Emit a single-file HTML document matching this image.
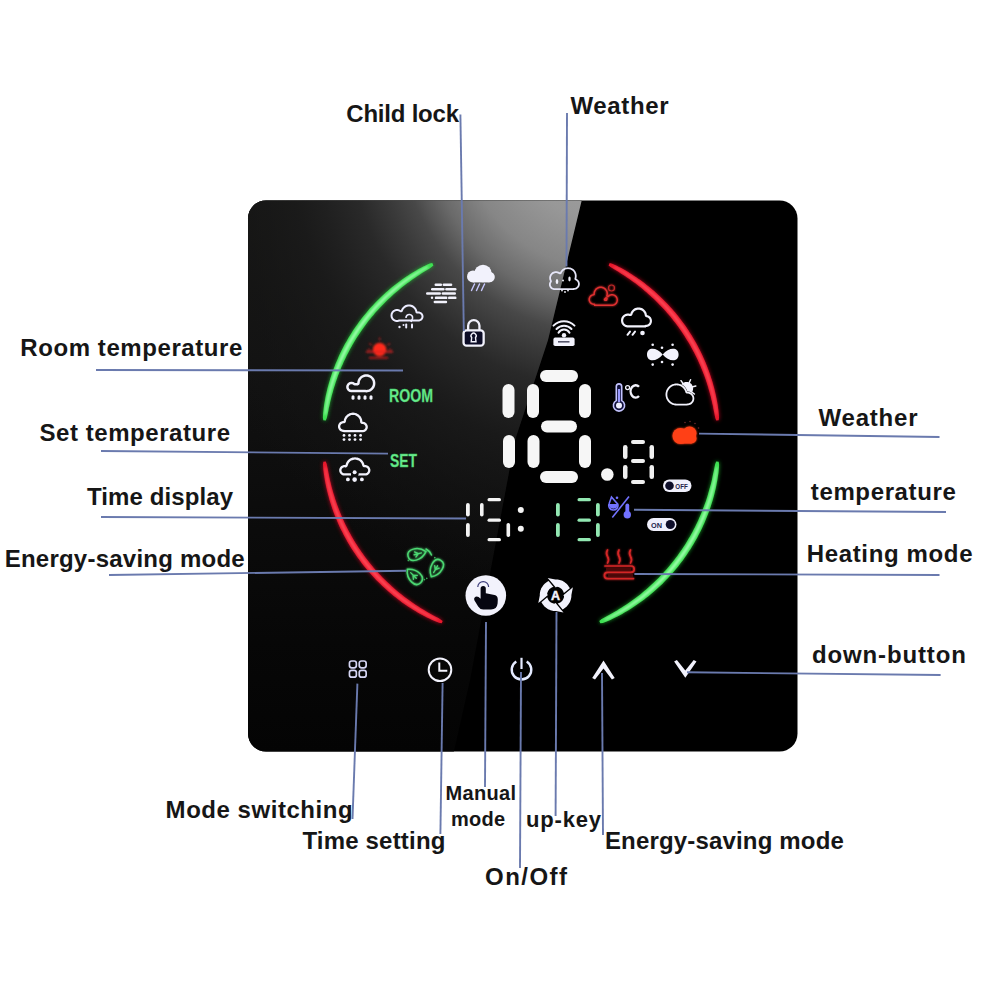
<!DOCTYPE html>
<html><head><meta charset="utf-8"><style>
html,body{margin:0;padding:0;background:#fff;width:1000px;height:1000px;overflow:hidden}
svg{display:block}
text{font-family:"Liberation Sans",sans-serif;font-weight:bold;fill:#161616}
</style></head><body>
<svg width="1000" height="1000" viewBox="0 0 1000 1000">
<defs>
<radialGradient id="reflR" gradientUnits="userSpaceOnUse" cx="611" cy="104" r="500" gradientTransform="translate(611 104) rotate(106.9) scale(1 0.92) translate(-611 -104)">
<stop offset="0" stop-color="#a6a6a6"/>
<stop offset="0.232" stop-color="#989898"/>
<stop offset="0.33" stop-color="#868686"/>
<stop offset="0.4" stop-color="#6a6a6a"/>
<stop offset="0.46" stop-color="#484848"/>
<stop offset="0.51" stop-color="#393939"/>
<stop offset="0.57" stop-color="#292929"/>
<stop offset="0.64" stop-color="#202020"/>
<stop offset="0.7" stop-color="#1b1b1b" stop-opacity="0.85"/>
<stop offset="0.84" stop-color="#161616" stop-opacity="0.5"/>
<stop offset="1" stop-color="#141414" stop-opacity="0"/>
</radialGradient>
<linearGradient id="baseV" gradientUnits="userSpaceOnUse" x1="0" y1="200" x2="0" y2="752">
<stop offset="0" stop-color="#161614"/>
<stop offset="0.3" stop-color="#121212"/>
<stop offset="0.55" stop-color="#0c0c0c"/>
<stop offset="0.8" stop-color="#070707"/>
<stop offset="1" stop-color="#040404"/>
</linearGradient>

<clipPath id="panelclip"><rect x="248" y="200.5" width="549.5" height="551" rx="18"/></clipPath>
<filter id="glow" x="-20%" y="-20%" width="140%" height="140%"><feGaussianBlur stdDeviation="2.2"/></filter>
<filter id="gl1" x="-30%" y="-30%" width="160%" height="160%"><feGaussianBlur in="SourceGraphic" stdDeviation="0.9" result="b"/><feMerge><feMergeNode in="b"/><feMergeNode in="SourceGraphic"/></feMerge></filter>
<filter id="gl2" x="-40%" y="-40%" width="180%" height="180%"><feGaussianBlur in="SourceGraphic" stdDeviation="1.1"/></filter>

</defs>
<rect x="248" y="200.5" width="549.5" height="551" rx="18" fill="#000"/>
<g clip-path="url(#panelclip)">
<polygon points="240,195 583,195 548,340 515,440 470,680 452,760 240,760" fill="url(#baseV)"/>
<polygon points="240,195 583,195 548,340 515,440 470,680 452,760 240,760" fill="url(#reflR)"/>
</g>
<g filter="url(#glow)" opacity="0.8">
<path d="M323.3,420.2 L322.9,417.7 L323.0,415.2 L323.2,412.7 L323.5,410.2 L323.8,407.7 L324.1,405.2 L324.5,402.7 L325.0,400.2 L325.4,397.8 L325.9,395.3 L326.5,392.8 L327.0,390.4 L327.6,387.9 L328.3,385.5 L329.0,383.1 L329.7,380.7 L330.4,378.3 L331.2,375.9 L332.0,373.5 L332.8,371.1 L333.7,368.7 L334.6,366.4 L335.5,364.0 L336.5,361.7 L337.5,359.4 L338.5,357.1 L339.5,354.8 L340.6,352.5 L341.7,350.3 L342.9,348.0 L344.0,345.8 L345.2,343.6 L346.5,341.4 L347.7,339.2 L349.0,337.0 L350.3,334.9 L351.7,332.7 L353.0,330.6 L354.4,328.5 L355.8,326.4 L357.3,324.4 L358.8,322.3 L360.3,320.3 L361.8,318.3 L363.4,316.3 L364.9,314.4 L366.6,312.4 L368.2,310.5 L369.8,308.6 L371.5,306.7 L373.2,304.9 L375.0,303.0 L376.7,301.2 L378.5,299.4 L380.3,297.7 L382.1,295.9 L384.0,294.2 L385.8,292.5 L387.7,290.9 L389.6,289.2 L391.6,287.6 L393.5,286.0 L395.5,284.4 L397.5,282.9 L399.5,281.4 L401.5,279.9 L403.6,278.5 L405.7,277.0 L407.8,275.7 L409.9,274.3 L412.0,273.0 L414.1,271.7 L416.3,270.4 L418.5,269.1 L420.7,267.9 L422.9,266.8 L425.2,265.7 L427.5,264.6 L429.8,263.6 L432.3,263.1 L433.4,265.4 L431.6,267.1 L429.5,268.4 L427.4,269.7 L425.3,271.0 L423.2,272.3 L421.2,273.6 L419.1,274.9 L417.1,276.3 L415.0,277.7 L413.0,279.0 L411.0,280.5 L409.1,281.9 L407.1,283.3 L405.2,284.8 L403.2,286.3 L401.3,287.8 L399.4,289.4 L397.6,290.9 L395.7,292.5 L393.9,294.1 L392.1,295.7 L390.3,297.4 L388.5,299.1 L386.7,300.7 L385.0,302.5 L383.3,304.2 L381.6,305.9 L379.9,307.7 L378.3,309.5 L376.6,311.3 L375.0,313.1 L373.5,315.0 L371.9,316.8 L370.3,318.7 L368.8,320.6 L367.3,322.6 L365.9,324.5 L364.4,326.5 L363.0,328.4 L361.6,330.4 L360.2,332.4 L358.9,334.5 L357.5,336.5 L356.2,338.5 L355.0,340.6 L353.7,342.7 L352.5,344.8 L351.3,346.9 L350.1,349.1 L349.0,351.2 L347.8,353.4 L346.7,355.5 L345.7,357.7 L344.6,359.9 L343.6,362.1 L342.6,364.4 L341.6,366.6 L340.7,368.8 L339.8,371.1 L338.9,373.4 L338.0,375.6 L337.2,377.9 L336.4,380.2 L335.6,382.5 L334.9,384.9 L334.1,387.2 L333.4,389.5 L332.8,391.9 L332.1,394.2 L331.5,396.6 L330.9,399.0 L330.3,401.3 L329.8,403.7 L329.3,406.1 L328.7,408.5 L328.3,410.9 L327.8,413.3 L327.3,415.7 L326.8,418.1 L325.8,420.5Z" fill="#20c030"/><path d="M718.7,461.8 L719.1,464.5 L719.0,467.1 L718.7,469.7 L718.5,472.4 L718.1,475.0 L717.7,477.6 L717.3,480.2 L716.8,482.8 L716.3,485.4 L715.8,488.0 L715.2,490.6 L714.6,493.1 L713.9,495.7 L713.2,498.3 L712.5,500.8 L711.7,503.3 L710.9,505.8 L710.0,508.4 L709.2,510.9 L708.3,513.3 L707.3,515.8 L706.3,518.3 L705.3,520.7 L704.3,523.2 L703.2,525.6 L702.1,528.0 L700.9,530.4 L699.7,532.8 L698.5,535.1 L697.3,537.5 L696.0,539.8 L694.7,542.1 L693.3,544.4 L692.0,546.6 L690.6,548.9 L689.1,551.1 L687.7,553.3 L686.2,555.5 L684.6,557.7 L683.1,559.9 L681.5,562.0 L679.9,564.1 L678.3,566.2 L676.6,568.2 L674.9,570.3 L673.2,572.3 L671.4,574.3 L669.6,576.2 L667.8,578.2 L666.0,580.1 L664.1,582.0 L662.3,583.9 L660.3,585.7 L658.4,587.5 L656.5,589.3 L654.5,591.1 L652.5,592.8 L650.4,594.5 L648.4,596.2 L646.3,597.8 L644.2,599.4 L642.1,601.0 L639.9,602.6 L637.8,604.1 L635.6,605.6 L633.4,607.1 L631.2,608.5 L628.9,609.9 L626.7,611.3 L624.4,612.6 L622.1,613.9 L619.8,615.2 L617.4,616.4 L615.1,617.6 L612.7,618.8 L610.3,619.9 L607.9,620.9 L605.4,621.9 L602.9,622.9 L600.3,623.3 L599.3,621.0 L601.3,619.3 L603.6,618.0 L605.9,616.8 L608.1,615.5 L610.4,614.3 L612.6,613.0 L614.8,611.7 L617.1,610.4 L619.2,609.1 L621.4,607.7 L623.6,606.3 L625.7,604.9 L627.9,603.5 L630.0,602.0 L632.1,600.6 L634.2,599.1 L636.2,597.5 L638.2,596.0 L640.3,594.4 L642.3,592.8 L644.2,591.1 L646.2,589.5 L648.1,587.8 L650.0,586.1 L651.9,584.3 L653.8,582.6 L655.6,580.8 L657.5,579.0 L659.3,577.2 L661.0,575.3 L662.8,573.5 L664.5,571.6 L666.2,569.7 L667.9,567.7 L669.6,565.8 L671.2,563.8 L672.8,561.8 L674.4,559.8 L675.9,557.8 L677.5,555.7 L679.0,553.6 L680.4,551.5 L681.9,549.4 L683.3,547.3 L684.7,545.2 L686.1,543.0 L687.4,540.8 L688.7,538.6 L690.0,536.4 L691.2,534.2 L692.5,531.9 L693.7,529.6 L694.8,527.4 L696.0,525.1 L697.1,522.8 L698.2,520.4 L699.2,518.1 L700.2,515.7 L701.2,513.4 L702.2,511.0 L703.1,508.6 L704.0,506.2 L704.9,503.8 L705.8,501.4 L706.6,499.0 L707.4,496.5 L708.1,494.1 L708.8,491.6 L709.5,489.1 L710.2,486.6 L710.9,484.2 L711.5,481.7 L712.1,479.2 L712.6,476.6 L713.1,474.1 L713.7,471.6 L714.2,469.1 L714.7,466.5 L715.2,464.0 L716.2,461.5Z" fill="#20c030"/>
<path d="M441.7,623.3 L439.1,622.8 L436.6,621.8 L434.2,620.8 L431.8,619.7 L429.4,618.6 L427.0,617.4 L424.7,616.2 L422.4,615.0 L420.0,613.7 L417.7,612.4 L415.5,611.1 L413.2,609.7 L411.0,608.3 L408.8,606.9 L406.6,605.4 L404.4,603.9 L402.2,602.4 L400.1,600.8 L398.0,599.2 L395.9,597.6 L393.8,595.9 L391.8,594.3 L389.7,592.6 L387.7,590.8 L385.8,589.1 L383.8,587.3 L381.9,585.5 L380.0,583.6 L378.1,581.8 L376.2,579.9 L374.4,578.0 L372.6,576.0 L370.8,574.1 L369.1,572.1 L367.4,570.1 L365.7,568.0 L364.0,566.0 L362.4,563.9 L360.8,561.8 L359.2,559.6 L357.6,557.5 L356.1,555.3 L354.6,553.1 L353.2,550.9 L351.7,548.7 L350.3,546.5 L349.0,544.2 L347.6,541.9 L346.3,539.6 L345.0,537.3 L343.8,535.0 L342.6,532.6 L341.4,530.2 L340.2,527.9 L339.1,525.5 L338.0,523.0 L337.0,520.6 L336.0,518.2 L335.0,515.7 L334.0,513.2 L333.1,510.8 L332.2,508.3 L331.4,505.8 L330.6,503.2 L329.8,500.7 L329.1,498.2 L328.4,495.6 L327.7,493.1 L327.1,490.5 L326.5,487.9 L325.9,485.3 L325.4,482.8 L324.9,480.2 L324.5,477.6 L324.1,474.9 L323.7,472.3 L323.4,469.7 L323.2,467.1 L323.0,464.5 L323.3,461.8 L325.8,461.5 L326.7,464.0 L327.2,466.6 L327.7,469.1 L328.2,471.6 L328.7,474.2 L329.2,476.7 L329.7,479.2 L330.3,481.7 L330.9,484.2 L331.5,486.7 L332.2,489.2 L332.9,491.7 L333.6,494.1 L334.4,496.6 L335.1,499.0 L336.0,501.5 L336.8,503.9 L337.7,506.3 L338.6,508.7 L339.5,511.1 L340.5,513.5 L341.5,515.9 L342.5,518.2 L343.5,520.6 L344.6,522.9 L345.7,525.2 L346.9,527.5 L348.0,529.8 L349.2,532.1 L350.5,534.3 L351.7,536.6 L353.0,538.8 L354.3,541.0 L355.7,543.2 L357.0,545.3 L358.4,547.5 L359.8,549.6 L361.3,551.7 L362.8,553.8 L364.3,555.9 L365.8,558.0 L367.4,560.0 L368.9,562.0 L370.5,564.0 L372.2,566.0 L373.8,568.0 L375.5,569.9 L377.2,571.8 L379.0,573.7 L380.7,575.6 L382.5,577.4 L384.3,579.3 L386.1,581.1 L388.0,582.8 L389.9,584.6 L391.7,586.3 L393.7,588.0 L395.6,589.7 L397.6,591.4 L399.5,593.0 L401.5,594.6 L403.6,596.2 L405.6,597.8 L407.7,599.3 L409.8,600.8 L411.9,602.3 L414.0,603.7 L416.1,605.2 L418.3,606.6 L420.4,607.9 L422.6,609.3 L424.8,610.6 L427.1,611.9 L429.3,613.2 L431.5,614.5 L433.8,615.7 L436.1,616.9 L438.4,618.1 L440.6,619.4 L442.7,621.0Z" fill="#e01028"/><path d="M609.7,263.1 L612.2,263.7 L614.5,264.7 L616.7,265.8 L619.0,266.9 L621.2,268.1 L623.4,269.3 L625.6,270.6 L627.7,271.8 L629.9,273.2 L632.0,274.5 L634.1,275.9 L636.2,277.3 L638.2,278.7 L640.3,280.1 L642.3,281.6 L644.3,283.1 L646.3,284.7 L648.3,286.2 L650.2,287.8 L652.2,289.4 L654.1,291.1 L656.0,292.8 L657.8,294.4 L659.7,296.2 L661.5,297.9 L663.3,299.7 L665.0,301.4 L666.8,303.3 L668.5,305.1 L670.2,306.9 L671.9,308.8 L673.6,310.7 L675.2,312.6 L676.8,314.6 L678.4,316.5 L679.9,318.5 L681.4,320.5 L682.9,322.5 L684.4,324.6 L685.9,326.6 L687.3,328.7 L688.7,330.8 L690.0,332.9 L691.4,335.0 L692.7,337.2 L694.0,339.4 L695.2,341.5 L696.5,343.7 L697.7,346.0 L698.8,348.2 L700.0,350.4 L701.1,352.7 L702.2,355.0 L703.2,357.2 L704.2,359.5 L705.2,361.8 L706.2,364.2 L707.1,366.5 L708.0,368.9 L708.9,371.2 L709.7,373.6 L710.5,376.0 L711.3,378.4 L712.1,380.8 L712.8,383.2 L713.4,385.6 L714.1,388.0 L714.7,390.5 L715.3,392.9 L715.8,395.3 L716.3,397.8 L716.8,400.3 L717.3,402.7 L717.7,405.2 L718.0,407.7 L718.4,410.2 L718.6,412.7 L718.9,415.2 L719.0,417.7 L718.7,420.2 L716.2,420.5 L715.3,418.1 L714.8,415.7 L714.4,413.3 L713.9,410.9 L713.4,408.5 L713.0,406.1 L712.4,403.7 L711.9,401.3 L711.3,398.9 L710.8,396.5 L710.1,394.2 L709.5,391.8 L708.8,389.5 L708.1,387.1 L707.4,384.8 L706.7,382.5 L705.9,380.1 L705.1,377.8 L704.3,375.5 L703.4,373.3 L702.5,371.0 L701.6,368.7 L700.7,366.5 L699.7,364.2 L698.7,362.0 L697.7,359.8 L696.6,357.6 L695.6,355.4 L694.5,353.2 L693.3,351.0 L692.2,348.9 L691.0,346.8 L689.8,344.6 L688.6,342.5 L687.3,340.4 L686.0,338.4 L684.7,336.3 L683.4,334.3 L682.1,332.2 L680.7,330.2 L679.3,328.2 L677.9,326.2 L676.4,324.3 L674.9,322.3 L673.4,320.4 L671.9,318.5 L670.4,316.6 L668.8,314.8 L667.2,312.9 L665.6,311.1 L664.0,309.3 L662.3,307.5 L660.6,305.7 L658.9,304.0 L657.2,302.2 L655.5,300.5 L653.7,298.8 L651.9,297.2 L650.1,295.5 L648.3,293.9 L646.5,292.3 L644.6,290.7 L642.7,289.1 L640.9,287.6 L638.9,286.1 L637.0,284.6 L635.1,283.1 L633.1,281.7 L631.1,280.2 L629.1,278.8 L627.1,277.5 L625.0,276.1 L623.0,274.8 L620.9,273.4 L618.9,272.1 L616.8,270.8 L614.7,269.6 L612.6,268.3 L610.5,267.0 L608.6,265.4Z" fill="#e01028"/>
</g>
<path d="M323.3,420.2 L322.9,417.7 L323.0,415.2 L323.2,412.7 L323.5,410.2 L323.8,407.7 L324.1,405.2 L324.5,402.7 L325.0,400.2 L325.4,397.8 L325.9,395.3 L326.5,392.8 L327.0,390.4 L327.6,387.9 L328.3,385.5 L329.0,383.1 L329.7,380.7 L330.4,378.3 L331.2,375.9 L332.0,373.5 L332.8,371.1 L333.7,368.7 L334.6,366.4 L335.5,364.0 L336.5,361.7 L337.5,359.4 L338.5,357.1 L339.5,354.8 L340.6,352.5 L341.7,350.3 L342.9,348.0 L344.0,345.8 L345.2,343.6 L346.5,341.4 L347.7,339.2 L349.0,337.0 L350.3,334.9 L351.7,332.7 L353.0,330.6 L354.4,328.5 L355.8,326.4 L357.3,324.4 L358.8,322.3 L360.3,320.3 L361.8,318.3 L363.4,316.3 L364.9,314.4 L366.6,312.4 L368.2,310.5 L369.8,308.6 L371.5,306.7 L373.2,304.9 L375.0,303.0 L376.7,301.2 L378.5,299.4 L380.3,297.7 L382.1,295.9 L384.0,294.2 L385.8,292.5 L387.7,290.9 L389.6,289.2 L391.6,287.6 L393.5,286.0 L395.5,284.4 L397.5,282.9 L399.5,281.4 L401.5,279.9 L403.6,278.5 L405.7,277.0 L407.8,275.7 L409.9,274.3 L412.0,273.0 L414.1,271.7 L416.3,270.4 L418.5,269.1 L420.7,267.9 L422.9,266.8 L425.2,265.7 L427.5,264.6 L429.8,263.6 L432.3,263.1 L433.4,265.4 L431.6,267.1 L429.5,268.4 L427.4,269.7 L425.3,271.0 L423.2,272.3 L421.2,273.6 L419.1,274.9 L417.1,276.3 L415.0,277.7 L413.0,279.0 L411.0,280.5 L409.1,281.9 L407.1,283.3 L405.2,284.8 L403.2,286.3 L401.3,287.8 L399.4,289.4 L397.6,290.9 L395.7,292.5 L393.9,294.1 L392.1,295.7 L390.3,297.4 L388.5,299.1 L386.7,300.7 L385.0,302.5 L383.3,304.2 L381.6,305.9 L379.9,307.7 L378.3,309.5 L376.6,311.3 L375.0,313.1 L373.5,315.0 L371.9,316.8 L370.3,318.7 L368.8,320.6 L367.3,322.6 L365.9,324.5 L364.4,326.5 L363.0,328.4 L361.6,330.4 L360.2,332.4 L358.9,334.5 L357.5,336.5 L356.2,338.5 L355.0,340.6 L353.7,342.7 L352.5,344.8 L351.3,346.9 L350.1,349.1 L349.0,351.2 L347.8,353.4 L346.7,355.5 L345.7,357.7 L344.6,359.9 L343.6,362.1 L342.6,364.4 L341.6,366.6 L340.7,368.8 L339.8,371.1 L338.9,373.4 L338.0,375.6 L337.2,377.9 L336.4,380.2 L335.6,382.5 L334.9,384.9 L334.1,387.2 L333.4,389.5 L332.8,391.9 L332.1,394.2 L331.5,396.6 L330.9,399.0 L330.3,401.3 L329.8,403.7 L329.3,406.1 L328.7,408.5 L328.3,410.9 L327.8,413.3 L327.3,415.7 L326.8,418.1 L325.8,420.5Z" fill="#3ee052"/><path d="M718.7,461.8 L719.1,464.5 L719.0,467.1 L718.7,469.7 L718.5,472.4 L718.1,475.0 L717.7,477.6 L717.3,480.2 L716.8,482.8 L716.3,485.4 L715.8,488.0 L715.2,490.6 L714.6,493.1 L713.9,495.7 L713.2,498.3 L712.5,500.8 L711.7,503.3 L710.9,505.8 L710.0,508.4 L709.2,510.9 L708.3,513.3 L707.3,515.8 L706.3,518.3 L705.3,520.7 L704.3,523.2 L703.2,525.6 L702.1,528.0 L700.9,530.4 L699.7,532.8 L698.5,535.1 L697.3,537.5 L696.0,539.8 L694.7,542.1 L693.3,544.4 L692.0,546.6 L690.6,548.9 L689.1,551.1 L687.7,553.3 L686.2,555.5 L684.6,557.7 L683.1,559.9 L681.5,562.0 L679.9,564.1 L678.3,566.2 L676.6,568.2 L674.9,570.3 L673.2,572.3 L671.4,574.3 L669.6,576.2 L667.8,578.2 L666.0,580.1 L664.1,582.0 L662.3,583.9 L660.3,585.7 L658.4,587.5 L656.5,589.3 L654.5,591.1 L652.5,592.8 L650.4,594.5 L648.4,596.2 L646.3,597.8 L644.2,599.4 L642.1,601.0 L639.9,602.6 L637.8,604.1 L635.6,605.6 L633.4,607.1 L631.2,608.5 L628.9,609.9 L626.7,611.3 L624.4,612.6 L622.1,613.9 L619.8,615.2 L617.4,616.4 L615.1,617.6 L612.7,618.8 L610.3,619.9 L607.9,620.9 L605.4,621.9 L602.9,622.9 L600.3,623.3 L599.3,621.0 L601.3,619.3 L603.6,618.0 L605.9,616.8 L608.1,615.5 L610.4,614.3 L612.6,613.0 L614.8,611.7 L617.1,610.4 L619.2,609.1 L621.4,607.7 L623.6,606.3 L625.7,604.9 L627.9,603.5 L630.0,602.0 L632.1,600.6 L634.2,599.1 L636.2,597.5 L638.2,596.0 L640.3,594.4 L642.3,592.8 L644.2,591.1 L646.2,589.5 L648.1,587.8 L650.0,586.1 L651.9,584.3 L653.8,582.6 L655.6,580.8 L657.5,579.0 L659.3,577.2 L661.0,575.3 L662.8,573.5 L664.5,571.6 L666.2,569.7 L667.9,567.7 L669.6,565.8 L671.2,563.8 L672.8,561.8 L674.4,559.8 L675.9,557.8 L677.5,555.7 L679.0,553.6 L680.4,551.5 L681.9,549.4 L683.3,547.3 L684.7,545.2 L686.1,543.0 L687.4,540.8 L688.7,538.6 L690.0,536.4 L691.2,534.2 L692.5,531.9 L693.7,529.6 L694.8,527.4 L696.0,525.1 L697.1,522.8 L698.2,520.4 L699.2,518.1 L700.2,515.7 L701.2,513.4 L702.2,511.0 L703.1,508.6 L704.0,506.2 L704.9,503.8 L705.8,501.4 L706.6,499.0 L707.4,496.5 L708.1,494.1 L708.8,491.6 L709.5,489.1 L710.2,486.6 L710.9,484.2 L711.5,481.7 L712.1,479.2 L712.6,476.6 L713.1,474.1 L713.7,471.6 L714.2,469.1 L714.7,466.5 L715.2,464.0 L716.2,461.5Z" fill="#3ee052"/>
<path d="M441.7,623.3 L439.1,622.8 L436.6,621.8 L434.2,620.8 L431.8,619.7 L429.4,618.6 L427.0,617.4 L424.7,616.2 L422.4,615.0 L420.0,613.7 L417.7,612.4 L415.5,611.1 L413.2,609.7 L411.0,608.3 L408.8,606.9 L406.6,605.4 L404.4,603.9 L402.2,602.4 L400.1,600.8 L398.0,599.2 L395.9,597.6 L393.8,595.9 L391.8,594.3 L389.7,592.6 L387.7,590.8 L385.8,589.1 L383.8,587.3 L381.9,585.5 L380.0,583.6 L378.1,581.8 L376.2,579.9 L374.4,578.0 L372.6,576.0 L370.8,574.1 L369.1,572.1 L367.4,570.1 L365.7,568.0 L364.0,566.0 L362.4,563.9 L360.8,561.8 L359.2,559.6 L357.6,557.5 L356.1,555.3 L354.6,553.1 L353.2,550.9 L351.7,548.7 L350.3,546.5 L349.0,544.2 L347.6,541.9 L346.3,539.6 L345.0,537.3 L343.8,535.0 L342.6,532.6 L341.4,530.2 L340.2,527.9 L339.1,525.5 L338.0,523.0 L337.0,520.6 L336.0,518.2 L335.0,515.7 L334.0,513.2 L333.1,510.8 L332.2,508.3 L331.4,505.8 L330.6,503.2 L329.8,500.7 L329.1,498.2 L328.4,495.6 L327.7,493.1 L327.1,490.5 L326.5,487.9 L325.9,485.3 L325.4,482.8 L324.9,480.2 L324.5,477.6 L324.1,474.9 L323.7,472.3 L323.4,469.7 L323.2,467.1 L323.0,464.5 L323.3,461.8 L325.8,461.5 L326.7,464.0 L327.2,466.6 L327.7,469.1 L328.2,471.6 L328.7,474.2 L329.2,476.7 L329.7,479.2 L330.3,481.7 L330.9,484.2 L331.5,486.7 L332.2,489.2 L332.9,491.7 L333.6,494.1 L334.4,496.6 L335.1,499.0 L336.0,501.5 L336.8,503.9 L337.7,506.3 L338.6,508.7 L339.5,511.1 L340.5,513.5 L341.5,515.9 L342.5,518.2 L343.5,520.6 L344.6,522.9 L345.7,525.2 L346.9,527.5 L348.0,529.8 L349.2,532.1 L350.5,534.3 L351.7,536.6 L353.0,538.8 L354.3,541.0 L355.7,543.2 L357.0,545.3 L358.4,547.5 L359.8,549.6 L361.3,551.7 L362.8,553.8 L364.3,555.9 L365.8,558.0 L367.4,560.0 L368.9,562.0 L370.5,564.0 L372.2,566.0 L373.8,568.0 L375.5,569.9 L377.2,571.8 L379.0,573.7 L380.7,575.6 L382.5,577.4 L384.3,579.3 L386.1,581.1 L388.0,582.8 L389.9,584.6 L391.7,586.3 L393.7,588.0 L395.6,589.7 L397.6,591.4 L399.5,593.0 L401.5,594.6 L403.6,596.2 L405.6,597.8 L407.7,599.3 L409.8,600.8 L411.9,602.3 L414.0,603.7 L416.1,605.2 L418.3,606.6 L420.4,607.9 L422.6,609.3 L424.8,610.6 L427.1,611.9 L429.3,613.2 L431.5,614.5 L433.8,615.7 L436.1,616.9 L438.4,618.1 L440.6,619.4 L442.7,621.0Z" fill="#e8182c"/><path d="M609.7,263.1 L612.2,263.7 L614.5,264.7 L616.7,265.8 L619.0,266.9 L621.2,268.1 L623.4,269.3 L625.6,270.6 L627.7,271.8 L629.9,273.2 L632.0,274.5 L634.1,275.9 L636.2,277.3 L638.2,278.7 L640.3,280.1 L642.3,281.6 L644.3,283.1 L646.3,284.7 L648.3,286.2 L650.2,287.8 L652.2,289.4 L654.1,291.1 L656.0,292.8 L657.8,294.4 L659.7,296.2 L661.5,297.9 L663.3,299.7 L665.0,301.4 L666.8,303.3 L668.5,305.1 L670.2,306.9 L671.9,308.8 L673.6,310.7 L675.2,312.6 L676.8,314.6 L678.4,316.5 L679.9,318.5 L681.4,320.5 L682.9,322.5 L684.4,324.6 L685.9,326.6 L687.3,328.7 L688.7,330.8 L690.0,332.9 L691.4,335.0 L692.7,337.2 L694.0,339.4 L695.2,341.5 L696.5,343.7 L697.7,346.0 L698.8,348.2 L700.0,350.4 L701.1,352.7 L702.2,355.0 L703.2,357.2 L704.2,359.5 L705.2,361.8 L706.2,364.2 L707.1,366.5 L708.0,368.9 L708.9,371.2 L709.7,373.6 L710.5,376.0 L711.3,378.4 L712.1,380.8 L712.8,383.2 L713.4,385.6 L714.1,388.0 L714.7,390.5 L715.3,392.9 L715.8,395.3 L716.3,397.8 L716.8,400.3 L717.3,402.7 L717.7,405.2 L718.0,407.7 L718.4,410.2 L718.6,412.7 L718.9,415.2 L719.0,417.7 L718.7,420.2 L716.2,420.5 L715.3,418.1 L714.8,415.7 L714.4,413.3 L713.9,410.9 L713.4,408.5 L713.0,406.1 L712.4,403.7 L711.9,401.3 L711.3,398.9 L710.8,396.5 L710.1,394.2 L709.5,391.8 L708.8,389.5 L708.1,387.1 L707.4,384.8 L706.7,382.5 L705.9,380.1 L705.1,377.8 L704.3,375.5 L703.4,373.3 L702.5,371.0 L701.6,368.7 L700.7,366.5 L699.7,364.2 L698.7,362.0 L697.7,359.8 L696.6,357.6 L695.6,355.4 L694.5,353.2 L693.3,351.0 L692.2,348.9 L691.0,346.8 L689.8,344.6 L688.6,342.5 L687.3,340.4 L686.0,338.4 L684.7,336.3 L683.4,334.3 L682.1,332.2 L680.7,330.2 L679.3,328.2 L677.9,326.2 L676.4,324.3 L674.9,322.3 L673.4,320.4 L671.9,318.5 L670.4,316.6 L668.8,314.8 L667.2,312.9 L665.6,311.1 L664.0,309.3 L662.3,307.5 L660.6,305.7 L658.9,304.0 L657.2,302.2 L655.5,300.5 L653.7,298.8 L651.9,297.2 L650.1,295.5 L648.3,293.9 L646.5,292.3 L644.6,290.7 L642.7,289.1 L640.9,287.6 L638.9,286.1 L637.0,284.6 L635.1,283.1 L633.1,281.7 L631.1,280.2 L629.1,278.8 L627.1,277.5 L625.0,276.1 L623.0,274.8 L620.9,273.4 L618.9,272.1 L616.8,270.8 L614.7,269.6 L612.6,268.3 L610.5,267.0 L608.6,265.4Z" fill="#e8182c"/>
<g filter="url(#gl2)">
<path d="M324.8,415.2 L324.8,412.8 L325.0,410.4 L325.3,408.1 L325.7,405.8 L326.1,403.4 L326.5,401.1 L326.9,398.8 L327.4,396.5 L327.9,394.2 L328.5,391.9 L329.0,389.6 L329.6,387.3 L330.2,385.0 L330.9,382.7 L331.6,380.5 L332.3,378.2 L333.0,376.0 L333.8,373.7 L334.6,371.5 L335.4,369.3 L336.3,367.1 L337.2,364.9 L338.1,362.7 L339.0,360.5 L339.9,358.4 L340.9,356.2 L341.9,354.1 L343.0,352.0 L344.0,349.8 L345.1,347.7 L346.3,345.6 L347.4,343.6 L348.6,341.5 L349.7,339.5 L351.0,337.4 L352.2,335.4 L353.5,333.4 L354.8,331.4 L356.1,329.5 L357.4,327.5 L358.8,325.6 L360.2,323.7 L361.6,321.8 L363.0,319.9 L364.4,318.0 L365.9,316.2 L367.4,314.3 L368.9,312.5 L370.5,310.7 L372.1,308.9 L373.6,307.2 L375.2,305.4 L376.9,303.7 L378.5,302.0 L380.2,300.4 L381.9,298.7 L383.6,297.1 L385.3,295.4 L387.1,293.9 L388.9,292.3 L390.6,290.7 L392.4,289.2 L394.3,287.7 L396.1,286.2 L398.0,284.8 L399.9,283.3 L401.8,281.9 L403.7,280.5 L405.6,279.2 L407.6,277.8 L409.5,276.5 L411.5,275.3 L413.5,274.0 L415.5,272.8 L417.5,271.6 L419.6,270.4 L421.7,269.2 L423.8,268.1 L425.9,267.1 L428.1,266.3 L428.5,267.0 L426.6,268.4 L424.6,269.6 L422.6,270.8 L420.6,272.1 L418.6,273.3 L416.7,274.6 L414.7,275.9 L412.8,277.2 L410.8,278.5 L408.9,279.8 L407.1,281.2 L405.2,282.6 L403.3,284.0 L401.5,285.4 L399.6,286.9 L397.8,288.4 L396.0,289.9 L394.3,291.4 L392.5,292.9 L390.8,294.4 L389.0,296.0 L387.3,297.6 L385.7,299.2 L384.0,300.8 L382.3,302.5 L380.7,304.2 L379.1,305.8 L377.5,307.5 L375.9,309.3 L374.4,311.0 L372.9,312.8 L371.4,314.5 L369.9,316.3 L368.4,318.1 L367.0,320.0 L365.5,321.8 L364.1,323.7 L362.7,325.5 L361.4,327.4 L360.0,329.3 L358.7,331.3 L357.4,333.2 L356.2,335.1 L354.9,337.1 L353.7,339.1 L352.5,341.1 L351.3,343.1 L350.1,345.1 L349.0,347.2 L347.9,349.2 L346.8,351.3 L345.7,353.3 L344.7,355.4 L343.7,357.5 L342.7,359.6 L341.7,361.7 L340.8,363.9 L339.9,366.0 L339.0,368.2 L338.1,370.3 L337.3,372.5 L336.5,374.7 L335.7,376.9 L334.9,379.1 L334.2,381.3 L333.4,383.5 L332.7,385.7 L332.1,388.0 L331.4,390.2 L330.8,392.5 L330.2,394.7 L329.6,397.0 L329.1,399.3 L328.6,401.5 L328.1,403.8 L327.6,406.1 L327.1,408.4 L326.7,410.7 L326.2,413.0 L325.6,415.3Z" fill="#a0ffb0"/><path d="M717.2,466.8 L717.2,469.3 L716.9,471.8 L716.6,474.3 L716.2,476.7 L715.8,479.2 L715.4,481.6 L714.9,484.1 L714.4,486.5 L713.8,489.0 L713.2,491.4 L712.6,493.8 L712.0,496.2 L711.3,498.6 L710.6,501.0 L709.8,503.4 L709.0,505.7 L708.2,508.1 L707.4,510.5 L706.5,512.8 L705.6,515.1 L704.7,517.4 L703.7,519.7 L702.7,522.0 L701.7,524.3 L700.7,526.6 L699.6,528.8 L698.5,531.1 L697.4,533.3 L696.2,535.5 L695.0,537.7 L693.8,539.9 L692.5,542.0 L691.3,544.2 L690.0,546.3 L688.6,548.4 L687.3,550.5 L685.9,552.6 L684.5,554.7 L683.0,556.7 L681.6,558.7 L680.1,560.7 L678.6,562.7 L677.0,564.7 L675.5,566.6 L673.9,568.6 L672.2,570.5 L670.6,572.3 L668.9,574.2 L667.3,576.0 L665.5,577.9 L663.8,579.7 L662.1,581.4 L660.3,583.2 L658.5,584.9 L656.6,586.6 L654.8,588.3 L652.9,590.0 L651.0,591.6 L649.1,593.2 L647.2,594.8 L645.3,596.3 L643.3,597.9 L641.3,599.4 L639.3,600.9 L637.3,602.3 L635.2,603.7 L633.2,605.1 L631.1,606.5 L629.0,607.9 L626.9,609.2 L624.7,610.5 L622.6,611.7 L620.4,612.9 L618.2,614.1 L616.0,615.3 L613.8,616.4 L611.6,617.5 L609.3,618.6 L607.0,619.6 L604.6,620.4 L604.3,619.6 L606.4,618.3 L608.6,617.1 L610.7,615.9 L612.9,614.7 L615.0,613.5 L617.2,612.3 L619.3,611.0 L621.4,609.7 L623.5,608.4 L625.6,607.1 L627.6,605.8 L629.7,604.4 L631.7,603.0 L633.7,601.6 L635.7,600.1 L637.7,598.7 L639.6,597.2 L641.6,595.7 L643.5,594.1 L645.4,592.6 L647.3,591.0 L649.1,589.4 L651.0,587.7 L652.8,586.1 L654.6,584.4 L656.4,582.7 L658.1,581.0 L659.9,579.3 L661.6,577.5 L663.3,575.7 L664.9,573.9 L666.6,572.1 L668.2,570.3 L669.8,568.4 L671.4,566.5 L673.0,564.6 L674.5,562.7 L676.0,560.8 L677.5,558.8 L679.0,556.8 L680.4,554.8 L681.8,552.8 L683.2,550.8 L684.6,548.8 L685.9,546.7 L687.3,544.6 L688.5,542.5 L689.8,540.4 L691.1,538.3 L692.3,536.2 L693.5,534.0 L694.6,531.9 L695.8,529.7 L696.9,527.5 L697.9,525.3 L699.0,523.1 L700.0,520.8 L701.0,518.6 L702.0,516.3 L702.9,514.0 L703.9,511.8 L704.7,509.5 L705.6,507.2 L706.4,504.9 L707.3,502.5 L708.0,500.2 L708.8,497.9 L709.5,495.5 L710.2,493.1 L710.9,490.8 L711.5,488.4 L712.1,486.0 L712.7,483.6 L713.3,481.2 L713.8,478.8 L714.3,476.4 L714.8,474.0 L715.3,471.6 L715.8,469.1 L716.4,466.7Z" fill="#a0ffb0"/>
<path d="M437.4,620.4 L435.0,619.6 L432.7,618.6 L430.4,617.5 L428.2,616.4 L426.0,615.3 L423.8,614.1 L421.6,612.9 L419.4,611.7 L417.3,610.5 L415.1,609.2 L413.0,607.9 L410.9,606.5 L408.8,605.1 L406.8,603.7 L404.7,602.3 L402.7,600.9 L400.7,599.4 L398.7,597.9 L396.7,596.3 L394.8,594.8 L392.9,593.2 L391.0,591.6 L389.1,590.0 L387.2,588.3 L385.4,586.6 L383.5,584.9 L381.7,583.2 L379.9,581.4 L378.2,579.7 L376.5,577.9 L374.7,576.0 L373.1,574.2 L371.4,572.3 L369.8,570.5 L368.1,568.6 L366.5,566.6 L365.0,564.7 L363.4,562.7 L361.9,560.7 L360.4,558.7 L359.0,556.7 L357.5,554.7 L356.1,552.6 L354.7,550.5 L353.4,548.4 L352.0,546.3 L350.7,544.2 L349.5,542.0 L348.2,539.9 L347.0,537.7 L345.8,535.5 L344.6,533.3 L343.5,531.1 L342.4,528.8 L341.3,526.6 L340.3,524.3 L339.3,522.0 L338.3,519.7 L337.3,517.4 L336.4,515.1 L335.5,512.8 L334.6,510.5 L333.8,508.1 L333.0,505.7 L332.2,503.4 L331.4,501.0 L330.7,498.6 L330.0,496.2 L329.4,493.8 L328.8,491.4 L328.2,489.0 L327.6,486.5 L327.1,484.1 L326.6,481.6 L326.2,479.2 L325.8,476.7 L325.4,474.3 L325.1,471.8 L324.8,469.3 L324.8,466.8 L325.6,466.7 L326.2,469.1 L326.7,471.6 L327.2,474.0 L327.7,476.4 L328.2,478.8 L328.7,481.2 L329.3,483.6 L329.9,486.0 L330.5,488.4 L331.1,490.8 L331.8,493.1 L332.5,495.5 L333.2,497.9 L334.0,500.2 L334.7,502.5 L335.6,504.9 L336.4,507.2 L337.3,509.5 L338.1,511.8 L339.1,514.0 L340.0,516.3 L341.0,518.6 L342.0,520.8 L343.0,523.1 L344.1,525.3 L345.1,527.5 L346.2,529.7 L347.4,531.9 L348.5,534.0 L349.7,536.2 L350.9,538.3 L352.2,540.4 L353.5,542.5 L354.7,544.6 L356.1,546.7 L357.4,548.8 L358.8,550.8 L360.2,552.8 L361.6,554.8 L363.0,556.8 L364.5,558.8 L366.0,560.8 L367.5,562.7 L369.0,564.6 L370.6,566.5 L372.2,568.4 L373.8,570.3 L375.4,572.1 L377.1,573.9 L378.7,575.7 L380.4,577.5 L382.1,579.3 L383.9,581.0 L385.6,582.7 L387.4,584.4 L389.2,586.1 L391.0,587.7 L392.9,589.4 L394.7,591.0 L396.6,592.6 L398.5,594.1 L400.4,595.7 L402.4,597.2 L404.3,598.7 L406.3,600.1 L408.3,601.6 L410.3,603.0 L412.3,604.4 L414.4,605.8 L416.4,607.1 L418.5,608.4 L420.6,609.7 L422.7,611.0 L424.8,612.3 L427.0,613.5 L429.1,614.7 L431.3,615.9 L433.4,617.1 L435.6,618.3 L437.7,619.6Z" fill="#ff4858"/><path d="M613.9,266.3 L616.1,267.1 L618.2,268.1 L620.3,269.2 L622.4,270.4 L624.5,271.6 L626.5,272.8 L628.5,274.0 L630.5,275.3 L632.5,276.5 L634.4,277.8 L636.4,279.2 L638.3,280.5 L640.2,281.9 L642.1,283.3 L644.0,284.8 L645.9,286.2 L647.7,287.7 L649.6,289.2 L651.4,290.7 L653.1,292.3 L654.9,293.9 L656.7,295.4 L658.4,297.1 L660.1,298.7 L661.8,300.4 L663.5,302.0 L665.1,303.7 L666.8,305.4 L668.4,307.2 L669.9,308.9 L671.5,310.7 L673.1,312.5 L674.6,314.3 L676.1,316.2 L677.6,318.0 L679.0,319.9 L680.4,321.8 L681.8,323.7 L683.2,325.6 L684.6,327.5 L685.9,329.5 L687.2,331.4 L688.5,333.4 L689.8,335.4 L691.0,337.4 L692.3,339.5 L693.4,341.5 L694.6,343.6 L695.7,345.6 L696.9,347.7 L698.0,349.8 L699.0,352.0 L700.1,354.1 L701.1,356.2 L702.1,358.4 L703.0,360.5 L703.9,362.7 L704.8,364.9 L705.7,367.1 L706.6,369.3 L707.4,371.5 L708.2,373.7 L709.0,376.0 L709.7,378.2 L710.4,380.5 L711.1,382.7 L711.8,385.0 L712.4,387.3 L713.0,389.6 L713.5,391.9 L714.1,394.2 L714.6,396.5 L715.1,398.8 L715.5,401.1 L715.9,403.4 L716.3,405.8 L716.7,408.1 L717.0,410.4 L717.2,412.8 L717.2,415.2 L716.4,415.3 L715.8,413.0 L715.3,410.7 L714.9,408.4 L714.4,406.1 L713.9,403.8 L713.4,401.5 L712.9,399.3 L712.4,397.0 L711.8,394.7 L711.2,392.5 L710.6,390.2 L709.9,388.0 L709.3,385.7 L708.6,383.5 L707.8,381.3 L707.1,379.1 L706.3,376.9 L705.5,374.7 L704.7,372.5 L703.9,370.3 L703.0,368.2 L702.1,366.0 L701.2,363.9 L700.3,361.7 L699.3,359.6 L698.3,357.5 L697.3,355.4 L696.3,353.3 L695.2,351.3 L694.1,349.2 L693.0,347.2 L691.9,345.1 L690.7,343.1 L689.5,341.1 L688.3,339.1 L687.1,337.1 L685.8,335.1 L684.6,333.2 L683.3,331.3 L682.0,329.3 L680.6,327.4 L679.3,325.5 L677.9,323.7 L676.5,321.8 L675.0,320.0 L673.6,318.1 L672.1,316.3 L670.6,314.5 L669.1,312.8 L667.6,311.0 L666.1,309.3 L664.5,307.5 L662.9,305.8 L661.3,304.2 L659.7,302.5 L658.0,300.8 L656.3,299.2 L654.7,297.6 L653.0,296.0 L651.2,294.4 L649.5,292.9 L647.7,291.4 L646.0,289.9 L644.2,288.4 L642.4,286.9 L640.5,285.4 L638.7,284.0 L636.8,282.6 L634.9,281.2 L633.1,279.8 L631.2,278.5 L629.2,277.2 L627.3,275.9 L625.3,274.6 L623.4,273.3 L621.4,272.1 L619.4,270.8 L617.4,269.6 L615.4,268.4 L613.5,267.0Z" fill="#ff4858"/>
</g>
<g fill="#f6f6f6"><rect x="502.5" y="384" width="12" height="34" rx="6.0"/>
<rect x="503" y="435" width="12" height="33" rx="6.0"/>
<rect x="540" y="370" width="38" height="12" rx="6.0"/>
<rect x="527" y="384" width="12" height="34" rx="6.0"/>
<rect x="579" y="384" width="12" height="34" rx="6.0"/>
<rect x="541" y="420.5" width="36" height="12" rx="6.0"/>
<rect x="527.5" y="435" width="12" height="33" rx="6.0"/>
<rect x="579" y="435" width="12" height="33" rx="6.0"/>
<rect x="540" y="471" width="38" height="12" rx="6.0"/><circle cx="607.3" cy="474.5" r="6.3"/></g>
<g fill="#f0f0f0"><rect x="631" y="440" width="14" height="4" rx="2.0"/>
<rect x="623" y="445" width="4.5" height="14" rx="2.25"/>
<rect x="649.5" y="445" width="4.5" height="14" rx="2.25"/>
<rect x="631" y="459" width="14" height="4" rx="2.0"/>
<rect x="623" y="465" width="4.5" height="14" rx="2.25"/>
<rect x="649.5" y="465" width="4.5" height="14" rx="2.25"/>
<rect x="631" y="480" width="14" height="4" rx="2.0"/></g>
<g fill="#f4f4f4"><rect x="466" y="503" width="3.8" height="13.5" rx="1.9"/>
<rect x="466" y="523" width="3.8" height="14" rx="1.9"/>
<rect x="487.5" y="498" width="13.5" height="3.3" rx="1.65"/>
<rect x="480" y="503" width="3.6" height="13.5" rx="1.8"/>
<rect x="487.5" y="518.5" width="13.5" height="3.3" rx="1.65"/>
<rect x="506.5" y="523" width="3.6" height="14" rx="1.8"/>
<rect x="487.5" y="538" width="13.5" height="3.3" rx="1.65"/><circle cx="520.8" cy="510" r="3"/><circle cx="520.8" cy="528.8" r="3"/></g><g fill="#92e8b2"><rect x="556" y="503" width="3.8" height="13.5" rx="1.9"/>
<rect x="556" y="523" width="3.8" height="14" rx="1.9"/>
<rect x="577.5" y="498" width="13.5" height="3.3" rx="1.65"/>
<rect x="596" y="503" width="3.8" height="13.5" rx="1.9"/>
<rect x="577.5" y="518.5" width="13.5" height="3.3" rx="1.65"/>
<rect x="596" y="523" width="3.8" height="14" rx="1.9"/>
<rect x="577.5" y="538" width="13.5" height="3.3" rx="1.65"/></g>
<g fill="#f2f2fc"><rect x="434.5" y="283.5" width="7.6" height="2.5" rx="1.2"/><rect x="442.6" y="283.5" width="9.7" height="2.5" rx="1.2"/><rect x="431" y="287.9" width="13.6" height="2.5" rx="1.2"/><rect x="445.2" y="287.9" width="11.3" height="2.5" rx="1.2"/><rect x="426" y="292.3" width="15" height="2.5" rx="1.2"/><rect x="441.6" y="292.3" width="14.4" height="2.5" rx="1.2"/><rect x="434.8" y="296.6" width="12.6" height="2.5" rx="1.2"/><rect x="448" y="296.6" width="8.5" height="2.5" rx="1.2"/><rect x="433.6" y="300.7" width="13.6" height="2.5" rx="1.2"/><circle cx="432" cy="297.8" r="1.2"/></g>
<g fill="#f2f2fc"><circle cx="473" cy="276.5" r="6"/><circle cx="483" cy="273.5" r="8.7"/><circle cx="489.5" cy="277" r="5.3"/><rect x="473" y="276.5" width="16.5" height="5.899999999999977"/></g>
<g stroke="#c8c8ff" stroke-width="1.4" stroke-linecap="round"><line x1="471.5" y1="290.5" x2="474.5" y2="284"/><line x1="476.5" y1="290.5" x2="479.5" y2="284"/><line x1="481.5" y1="290.5" x2="484.5" y2="284"/></g>
<path d="M468.15,330 V325.8 A5.65,5.65 0 0 1 479.45,325.8 V330" fill="none" stroke="#f2f2fc" stroke-width="2.3"/><rect x="463.55" y="330.35" width="20.1" height="15.3" rx="3" fill="#0c0c26" stroke="#f2f2fc" stroke-width="2.3"/><path d="M471.7,337.6 A2.6,2.6 0 1 1 475.5,337.6 L476,341.8 H471.2 Z" fill="none" stroke="#f2f2fc" stroke-width="1.4"/>
<g><path d="M576.0,272.7 L575.5,271.6 L574.9,270.7 L574.2,269.8 L573.3,269.1 L572.4,268.5 L571.3,268.0 L570.3,267.6 L569.1,267.4 L568.0,267.3 L566.9,267.4 L565.7,267.6 L564.7,268.0 L563.6,268.5 L562.7,269.1 L561.8,269.8 L561.1,270.7 L560.5,271.6 L560.0,272.5 L559.4,272.1 L558.6,271.7 L557.8,271.4 L556.9,271.3 L556.0,271.2 L555.1,271.3 L554.2,271.4 L553.4,271.7 L552.6,272.1 L551.9,272.6 L551.2,273.2 L550.6,273.9 L550.1,274.6 L549.7,275.4 L549.4,276.2 L549.3,277.1 L549.2,278.0 L549.3,278.9 L549.4,279.8 L549.7,280.6 L550.1,281.3 L549.7,281.8 L549.4,282.4 L549.2,283.1 L549.0,283.8 L549.0,284.5 L549.0,285.2 L549.2,285.9 L549.4,286.6 L549.7,287.2 L550.1,287.8 L550.6,288.4 L551.2,288.9 L551.8,289.3 L552.4,289.6 L553.1,289.8 L553.8,290.0 L554.5,290.0 L574.0,290.0 L574.0,289.8 L574.8,289.8 L575.5,289.6 L576.2,289.4 L576.9,289.0 L577.5,288.6 L578.1,288.1 L578.6,287.5 L579.0,286.9 L579.4,286.2 L579.6,285.5 L579.8,284.8 L579.8,284.0 L579.8,283.2 L579.6,282.5 L579.4,281.8 L579.0,281.1 L578.6,280.5 L578.1,279.9 L577.5,279.4 L576.9,279.0 L576.3,278.7 L576.4,278.3 L576.6,277.1 L576.7,276.0 L576.6,274.9 L576.4,273.7 L576.0,272.7ZM554.6,288.2 L554.0,288.2 L553.5,288.1 L553.1,287.9 L552.7,287.7 L552.2,287.4 L551.9,287.1 L551.6,286.8 L551.3,286.3 L551.1,285.9 L550.9,285.5 L550.8,285.0 L550.8,284.5 L550.8,284.0 L550.9,283.5 L551.1,283.1 L551.3,282.7 L551.5,282.3 L551.7,282.1 L551.8,281.9 L551.8,281.6 L551.8,281.4 L551.8,281.2 L551.8,280.9 L551.8,280.7 L551.7,280.5 L551.4,279.9 L551.2,279.3 L551.0,278.7 L551.0,278.0 L551.0,277.3 L551.2,276.7 L551.4,276.1 L551.7,275.5 L552.0,275.0 L552.5,274.5 L553.0,274.0 L553.5,273.7 L554.1,273.4 L554.7,273.2 L555.3,273.0 L556.0,273.0 L556.7,273.0 L557.3,273.2 L557.9,273.4 L558.5,273.7 L559.0,274.0 L559.2,274.1 L559.5,274.2 L559.7,274.3 L559.9,274.3 L560.1,274.3 L560.4,274.3 L560.6,274.2 L560.8,274.1 L561.0,274.0 L561.2,273.9 L561.4,273.7 L561.5,273.5 L561.6,273.3 L562.0,272.6 L562.5,271.8 L563.1,271.1 L563.8,270.5 L564.6,270.0 L565.4,269.6 L566.2,269.3 L567.1,269.2 L568.0,269.1 L568.9,269.2 L569.8,269.3 L570.6,269.6 L571.4,270.0 L572.2,270.5 L572.9,271.1 L573.5,271.8 L574.0,272.6 L574.4,273.4 L574.7,274.2 L574.8,275.1 L574.9,276.0 L574.8,276.9 L574.7,277.8 L574.6,278.1 L574.5,278.3 L574.5,278.5 L574.5,278.8 L574.5,279.0 L574.6,279.2 L574.6,279.5 L574.8,279.7 L574.9,279.9 L575.1,280.0 L575.3,280.2 L575.5,280.3 L576.0,280.5 L576.4,280.8 L576.8,281.2 L577.2,281.6 L577.5,282.0 L577.7,282.5 L577.9,283.0 L578.0,283.5 L578.0,284.0 L578.0,284.5 L577.9,285.0 L577.7,285.5 L577.5,286.0 L577.2,286.4 L576.8,286.8 L576.4,287.2 L576.0,287.5 L575.5,287.7 L575.0,287.9 L574.5,288.0 L573.9,288.0 L573.6,288.0 L573.4,288.1 L573.2,288.2 L554.6,288.2Z" fill="#e6e6f8" fill-rule="evenodd"/><g fill="#f2f2fc"><ellipse cx="557" cy="281.5" rx="1.3" ry="2.6"/><ellipse cx="569.5" cy="279" rx="1.2" ry="2.4"/><circle cx="563" cy="280.5" r="1"/><circle cx="562" cy="290.5" r="0.9"/><circle cx="565" cy="292" r="0.9"/><circle cx="568" cy="290.5" r="0.9"/></g></g>
<g filter="url(#gl1)"><path d="M607.4,291.0 L607.0,290.2 L606.5,289.4 L605.9,288.6 L605.1,288.0 L604.4,287.5 L603.5,287.1 L602.6,286.7 L601.7,286.6 L600.7,286.5 L599.7,286.6 L598.8,286.7 L597.9,287.1 L597.1,287.5 L596.3,288.0 L595.5,288.6 L594.9,289.4 L594.4,290.2 L594.0,291.0 L593.6,291.9 L593.5,292.8 L593.4,293.8 L593.4,294.0 L593.3,294.0 L592.6,294.2 L591.9,294.4 L591.2,294.7 L590.7,295.1 L590.1,295.6 L589.6,296.2 L589.2,296.8 L588.9,297.4 L588.7,298.1 L588.5,298.8 L588.5,299.5 L588.5,300.2 L588.7,300.9 L588.9,301.6 L589.2,302.2 L589.6,302.8 L590.1,303.4 L590.7,303.9 L591.2,304.3 L591.9,304.6 L592.6,304.8 L593.3,305.0 L594.0,305.0 L594.0,306.0 L612.0,306.0 L612.8,305.9 L613.6,305.8 L614.3,305.5 L615.0,305.2 L615.7,304.8 L616.2,304.2 L616.8,303.7 L617.2,303.0 L617.5,302.3 L617.8,301.6 L617.9,300.8 L618.0,300.0 L617.9,299.2 L617.8,298.4 L617.5,297.7 L617.2,297.0 L616.8,296.3 L616.2,295.8 L615.7,295.2 L615.0,294.8 L614.3,294.5 L613.6,294.2 L612.8,294.1 L612.0,294.0 L611.2,294.1 L610.4,294.2 L609.7,294.5 L609.0,294.8 L608.3,295.2 L607.8,295.8 L607.7,295.8 L607.8,295.7 L607.9,294.8 L608.0,293.8 L607.9,292.8 L607.8,291.9 L607.4,291.0ZM595.4,304.4 L595.3,304.3 L595.2,304.1 L595.1,304.0 L595.0,303.8 L594.8,303.7 L594.6,303.6 L594.5,303.6 L594.3,303.5 L594.1,303.5 L593.5,303.5 L593.0,303.4 L592.5,303.2 L592.0,303.0 L591.6,302.7 L591.2,302.3 L590.8,301.9 L590.5,301.5 L590.3,301.0 L590.1,300.5 L590.0,300.0 L590.0,299.5 L590.0,299.0 L590.1,298.5 L590.3,298.0 L590.5,297.5 L590.8,297.1 L591.2,296.7 L591.6,296.3 L592.0,296.0 L592.5,295.8 L593.0,295.6 L593.5,295.5 L593.5,295.5 L593.7,295.5 L593.9,295.5 L594.1,295.4 L594.2,295.3 L594.4,295.2 L594.5,295.0 L594.7,294.9 L594.8,294.7 L594.8,294.5 L594.9,294.3 L594.9,294.1 L594.9,293.9 L594.9,293.8 L595.0,293.0 L595.1,292.3 L595.3,291.6 L595.7,290.9 L596.1,290.3 L596.6,289.7 L597.2,289.2 L597.8,288.8 L598.5,288.4 L599.2,288.2 L599.9,288.1 L600.7,288.0 L601.5,288.1 L602.2,288.2 L602.9,288.4 L603.6,288.8 L604.2,289.2 L604.8,289.7 L605.3,290.3 L605.7,290.9 L606.1,291.6 L606.3,292.3 L606.4,293.0 L606.5,293.8 L606.4,294.6 L606.3,295.3 L606.3,295.3 L606.2,295.5 L606.2,295.7 L606.2,295.9 L606.2,296.1 L606.3,296.3 L606.4,296.5 L606.5,296.6 L606.6,296.8 L606.7,296.9 L606.9,297.1 L607.0,297.2 L607.2,297.2 L607.4,297.3 L607.6,297.3 L607.8,297.3 L608.0,297.3 L608.2,297.2 L608.4,297.2 L608.5,297.1 L608.7,296.9 L608.8,296.8 L609.3,296.4 L609.8,296.1 L610.3,295.8 L610.8,295.7 L611.4,295.5 L612.0,295.5 L612.6,295.5 L613.2,295.7 L613.7,295.8 L614.2,296.1 L614.7,296.4 L615.2,296.8 L615.6,297.3 L615.9,297.8 L616.2,298.3 L616.3,298.8 L616.5,299.4 L616.5,300.0 L616.5,300.6 L616.3,301.2 L616.2,301.7 L615.9,302.2 L615.6,302.7 L615.2,303.2 L614.7,303.6 L614.2,303.9 L613.7,304.2 L613.2,304.3 L612.6,304.5 L612.0,304.5 L595.4,304.5 L595.4,304.4ZM604.3,298.4 L604.1,298.5 L604.0,298.7 L603.9,298.9 L603.8,299.0 L603.8,299.2 L603.7,299.4 L603.8,299.6 L603.8,299.8 L603.8,300.0 L603.9,300.2 L604.0,300.4 L604.2,300.5 L604.3,300.7 L604.5,300.8 L604.7,300.9 L604.8,300.9 L605.0,301.0 L605.2,301.0 L606.0,301.0 L606.2,301.0 L606.4,300.9 L606.6,300.9 L606.8,300.8 L607.0,300.7 L607.1,300.5 L607.3,300.4 L607.4,300.2 L607.4,300.0 L607.5,299.8 L607.5,299.6 L607.5,299.4 L607.6,298.9 L607.7,298.7 L607.7,298.5 L607.6,298.3 L607.6,298.1 L607.5,297.9 L607.4,297.8 L607.3,297.6 L607.2,297.5 L607.0,297.4 L606.8,297.3 L606.7,297.2 L606.5,297.1 L606.3,297.1 L606.1,297.1 L605.9,297.1 L605.7,297.2 L605.5,297.3 L605.3,297.4 L605.2,297.5 L605.0,297.6 L604.8,297.9 L604.3,298.4ZM606.2,298.6 L606.1,299.2 L606.0,299.5 L605.2,299.5 L605.9,299.0 L606.2,298.6Z" fill="#e03030" fill-rule="evenodd"/><circle cx="611.5" cy="288" r="3" fill="none" stroke="#c02828" stroke-width="1.2"/></g>
<g fill="none" stroke="#f2f2fc" stroke-width="2" stroke-linecap="round"><path d="M553.5,325.6 A14.8,14.8 0 0 1 574.5,325.6"/><path d="M556.5,329 A10.2,10.2 0 0 1 571.5,329"/><path d="M558.5,332.7 A6.4,6.4 0 0 1 569.5,332.7"/></g><circle cx="564" cy="335.2" r="2.2" fill="#f2f2fc"/><rect x="553.4" y="337.6" width="21.2" height="8.4" rx="1.8" fill="#f2f2fc"/><rect x="558" y="341" width="11.5" height="1.6" fill="#55556a"/>
<path d="M646.4,312.7 L645.9,311.8 L645.2,310.8 L644.5,310.0 L643.7,309.3 L642.8,308.6 L641.8,308.1 L640.7,307.8 L639.6,307.6 L638.5,307.5 L637.4,307.6 L636.3,307.8 L635.2,308.1 L634.2,308.6 L633.3,309.3 L632.5,310.0 L631.8,310.8 L631.1,311.8 L630.6,312.7 L630.3,313.8 L630.3,313.9 L629.8,313.7 L628.9,313.6 L628.0,313.5 L627.1,313.6 L626.2,313.7 L625.3,314.0 L624.5,314.4 L623.7,314.9 L623.1,315.6 L622.4,316.2 L621.9,317.0 L621.5,317.8 L621.2,318.7 L621.1,319.6 L621.0,320.5 L621.1,321.4 L621.2,322.3 L621.5,323.2 L621.9,324.0 L622.4,324.8 L623.1,325.4 L623.7,326.1 L624.5,326.6 L625.3,327.0 L626.2,327.3 L627.1,327.4 L628.0,327.5 L646.0,327.5 L646.0,327.0 L646.8,326.9 L647.6,326.8 L648.3,326.5 L649.0,326.2 L649.7,325.8 L650.2,325.2 L650.8,324.7 L651.2,324.0 L651.5,323.3 L651.8,322.6 L651.9,321.8 L652.0,321.0 L651.9,320.2 L651.8,319.4 L651.5,318.7 L651.2,318.0 L650.8,317.3 L650.2,316.8 L649.7,316.2 L649.0,315.8 L648.3,315.5 L647.6,315.2 L646.9,315.1 L646.9,314.9 L646.7,313.8 L646.4,312.7ZM632.7,313.6 L633.0,312.9 L633.5,312.2 L634.0,311.5 L634.7,311.0 L635.4,310.5 L636.1,310.2 L636.9,309.9 L637.7,309.8 L638.5,309.7 L639.3,309.8 L640.1,309.9 L640.9,310.2 L641.6,310.5 L642.3,311.0 L643.0,311.5 L643.5,312.2 L644.0,312.9 L644.3,313.6 L644.6,314.4 L644.7,315.2 L644.7,315.2 L644.8,315.5 L644.9,315.8 L645.0,316.1 L645.1,316.3 L645.3,316.5 L645.5,316.7 L645.7,316.9 L646.0,317.1 L646.2,317.2 L646.5,317.2 L647.0,317.3 L647.5,317.5 L647.9,317.7 L648.3,318.0 L648.7,318.3 L649.0,318.7 L649.3,319.1 L649.5,319.5 L649.7,320.0 L649.8,320.5 L649.8,321.0 L649.8,321.5 L649.7,322.0 L649.5,322.5 L649.3,322.9 L649.0,323.3 L648.7,323.7 L648.3,324.0 L647.9,324.3 L647.5,324.5 L647.0,324.7 L646.5,324.8 L645.9,324.8 L645.6,324.8 L645.3,324.9 L645.1,325.0 L644.8,325.1 L644.6,325.3 L628.1,325.3 L627.4,325.3 L626.8,325.1 L626.2,324.9 L625.6,324.7 L625.1,324.3 L624.6,323.9 L624.2,323.4 L623.8,322.9 L623.6,322.3 L623.4,321.7 L623.2,321.1 L623.2,320.5 L623.2,319.9 L623.4,319.3 L623.6,318.7 L623.8,318.1 L624.2,317.6 L624.6,317.1 L625.1,316.7 L625.6,316.3 L626.2,316.1 L626.8,315.9 L627.4,315.7 L628.0,315.7 L628.6,315.7 L629.2,315.9 L629.6,316.0 L629.8,316.1 L630.1,316.1 L630.4,316.1 L630.7,316.1 L631.0,316.0 L631.2,315.9 L631.5,315.7 L631.7,315.5 L631.9,315.3 L632.1,315.1 L632.2,314.9 L632.4,314.6 L632.4,314.4 L632.7,313.6Z" fill="#f2f2fc" fill-rule="evenodd"/>
<g stroke="#f2f2fc" stroke-width="2" stroke-linecap="round"><line x1="627.5" y1="334.8" x2="630" y2="331.6"/><line x1="632.5" y1="334.8" x2="635" y2="331.6"/></g><circle cx="642.5" cy="333" r="2.3" fill="#f2f2fc"/>
<path d="M662.7,354.5 C657,347 647,346.5 647,354.5 C647,362.5 657,362 662.7,354.5 C668.5,347 678.6,346.5 678.6,354.5 C678.6,362.5 668.5,362 662.7,354.5 Z" fill="#f2f2fc"/><g fill="#f2f2fc"><circle cx="652.7" cy="344.8" r="1.3"/><circle cx="662" cy="347.8" r="1.3"/><circle cx="672.6" cy="344.8" r="1.3"/><circle cx="662" cy="362" r="1.3"/><circle cx="652.7" cy="364.6" r="1.3"/><circle cx="672.6" cy="364.6" r="1.3"/></g>
<path d="M686.7,390.3 L686.0,389.0 L685.2,387.8 L684.3,386.7 L683.2,385.8 L682.0,385.0 L680.7,384.3 L679.3,383.9 L677.9,383.6 L676.5,383.5 L675.1,383.6 L673.7,383.9 L672.3,384.3 L671.0,385.0 L669.8,385.8 L668.7,386.7 L667.8,387.8 L667.0,389.0 L666.3,390.3 L665.9,391.7 L665.6,393.1 L665.5,394.5 L665.6,395.9 L665.9,397.3 L666.3,398.7 L667.0,400.0 L667.8,401.2 L668.7,402.3 L669.8,403.2 L671.0,404.0 L672.3,404.7 L673.7,405.1 L675.1,405.4 L676.5,405.5 L687.5,405.5 L687.5,405.3 L688.4,405.2 L689.3,405.1 L690.1,404.8 L690.9,404.4 L691.6,403.9 L692.3,403.3 L692.9,402.6 L693.4,401.9 L693.8,401.1 L694.1,400.3 L694.2,399.4 L694.3,398.5 L694.2,397.6 L694.1,396.7 L693.8,395.9 L693.4,395.1 L692.9,394.4 L692.3,393.7 L691.6,393.1 L690.9,392.6 L690.1,392.2 L689.3,391.9 L688.4,391.8 L687.5,391.7 L687.1,391.7 L687.1,391.7 L686.7,390.3ZM685.4,392.3 L685.5,392.5 L685.6,392.7 L685.8,392.9 L686.0,393.1 L686.1,393.2 L686.3,393.3 L686.6,393.4 L686.8,393.5 L687.0,393.5 L687.3,393.5 L687.5,393.5 L688.2,393.5 L688.8,393.7 L689.4,393.9 L690.0,394.2 L690.5,394.5 L691.0,395.0 L691.5,395.5 L691.8,396.0 L692.1,396.6 L692.3,397.2 L692.5,397.8 L692.5,398.5 L692.5,399.2 L692.3,399.8 L692.1,400.4 L691.8,401.0 L691.5,401.5 L691.0,402.0 L690.5,402.5 L690.0,402.8 L689.4,403.1 L688.8,403.3 L688.2,403.5 L687.4,403.5 L687.1,403.5 L686.9,403.6 L686.7,403.7 L676.6,403.7 L675.3,403.6 L674.1,403.4 L673.0,403.0 L671.9,402.5 L670.9,401.8 L670.0,401.0 L669.2,400.1 L668.5,399.1 L668.0,398.0 L667.6,396.9 L667.4,395.7 L667.3,394.5 L667.4,393.3 L667.6,392.1 L668.0,391.0 L668.5,389.9 L669.2,388.9 L670.0,388.0 L670.9,387.2 L671.9,386.5 L673.0,386.0 L674.1,385.6 L675.3,385.4 L676.5,385.3 L677.7,385.4 L678.9,385.6 L680.0,386.0 L681.1,386.5 L682.1,387.2 L683.0,388.0 L683.8,388.9 L684.5,389.9 L685.0,391.0 L685.4,392.2 L685.4,392.3Z" fill="#f2f2fc" fill-rule="evenodd"/><path d="M691.3,379.7 L691.3,379.6 L691.3,379.5 L691.2,379.5 L691.2,379.4 L691.2,379.3 L691.1,379.3 L691.1,379.2 L691.0,379.2 L690.9,379.2 L690.9,379.1 L690.8,379.1 L690.7,379.1 L690.7,379.1 L690.6,379.1 L690.5,379.1 L690.4,379.1 L690.4,379.1 L690.3,379.1 L690.2,379.1 L690.2,379.2 L690.1,379.2 L690.1,379.2 L690.0,379.3 L690.0,379.4 L689.9,379.4 L689.9,379.5 L688.6,382.2 L688.4,382.2 L687.8,382.0 L687.1,381.9 L686.5,381.9 L685.9,381.9 L685.2,382.0 L684.6,382.2 L684.0,382.4 L683.4,382.7 L683.4,382.7 L681.6,380.2 L681.6,380.1 L681.5,380.1 L681.5,380.0 L681.4,380.0 L681.3,380.0 L681.3,379.9 L681.2,379.9 L681.1,379.9 L681.1,379.9 L681.0,379.9 L680.9,379.9 L680.8,379.9 L680.8,379.9 L680.7,379.9 L680.6,380.0 L680.6,380.0 L680.5,380.1 L680.5,380.1 L680.4,380.2 L680.4,380.2 L680.3,380.3 L680.3,380.4 L680.3,380.4 L680.3,380.5 L680.2,380.6 L680.2,380.7 L680.2,380.7 L680.3,380.8 L680.3,380.9 L680.3,380.9 L680.3,381.0 L680.4,381.1 L682.1,383.6 L681.8,383.8 L681.4,384.3 L681.4,384.3 L681.8,384.5 L681.8,384.5 L682.8,385.1 L682.8,385.1 L683.7,385.8 L683.7,385.8 L684.5,386.5 L684.5,386.5 L685.2,387.3 L685.2,387.3 L685.9,388.2 L685.9,388.2 L686.5,389.2 L686.5,389.2 L686.9,390.2 L686.9,390.2 L687.3,391.2 L687.3,391.2 L687.4,391.4 L687.5,391.4 L687.5,391.4 L688.2,391.4 L688.2,391.4 L688.9,391.5 L688.9,391.5 L689.5,391.7 L689.6,391.7 L690.2,391.9 L690.2,391.9 L690.7,392.2 L690.7,392.2 L690.7,392.3 L690.8,392.3 L690.8,392.4 L690.9,392.5 L690.9,392.5 L691.0,392.6 L693.9,394.6 L694.0,394.7 L694.1,394.7 L694.1,394.7 L694.2,394.7 L694.3,394.8 L694.3,394.8 L694.4,394.8 L694.5,394.7 L694.6,394.7 L694.6,394.7 L694.7,394.7 L694.8,394.6 L694.8,394.6 L694.9,394.5 L694.9,394.5 L695.0,394.4 L695.0,394.4 L695.1,394.3 L695.1,394.2 L695.1,394.2 L695.1,394.1 L695.1,394.0 L695.1,393.9 L695.1,393.9 L695.1,393.8 L695.1,393.7 L695.0,393.7 L695.0,393.6 L695.0,393.5 L694.9,393.5 L694.9,393.4 L694.8,393.4 L692.3,391.6 L692.3,391.6 L692.6,391.0 L692.8,390.4 L693.0,389.8 L693.1,389.1 L693.1,388.5 L693.1,387.9 L693.0,387.5 L696.0,386.7 L696.0,386.7 L696.1,386.7 L696.2,386.7 L696.2,386.6 L696.3,386.6 L696.3,386.5 L696.4,386.5 L696.4,386.4 L696.5,386.3 L696.5,386.3 L696.5,386.2 L696.5,386.1 L696.5,386.0 L696.5,386.0 L696.5,385.9 L696.5,385.8 L696.5,385.8 L696.4,385.7 L696.4,385.6 L696.4,385.6 L696.3,385.5 L696.3,385.5 L696.2,385.4 L696.1,385.4 L696.1,385.3 L696.0,385.3 L695.9,385.3 L695.9,385.3 L695.8,385.3 L695.7,385.3 L695.7,385.3 L695.6,385.3 L692.6,386.1 L692.6,386.0 L692.3,385.4 L692.0,384.8 L691.6,384.3 L691.2,383.8 L690.7,383.4 L690.2,383.0 L689.9,382.9 L691.2,380.1 L691.3,380.0 L691.3,380.0 L691.3,379.9 L691.3,379.8 L691.3,379.8 L691.3,379.7Z" fill="#f2f2fc"/>
<path d="M616.3,400.6 V386.6 A2.7,2.7 0 0 1 621.7,386.6 V400.6 A5.6,5.6 0 1 1 616.3,400.6 Z" fill="#10103a" stroke="#c4c4ff" stroke-width="1.6"/><rect x="617.9" y="389" width="2.2" height="13" fill="#9a9aff"/><circle cx="619" cy="405.6" r="3" fill="#f0f0ff"/><circle cx="627.6" cy="387.6" r="2" fill="none" stroke="#f2f2fc" stroke-width="1.3"/><path d="M639,386.8 A5,6.2 0 1 0 639,396" fill="none" stroke="#f2f2fc" stroke-width="2.4"/>
<g filter="url(#gl1)"><g fill="#ff4018"><circle cx="680.5" cy="436" r="8"/><circle cx="689.5" cy="433.5" r="7"/><circle cx="691.5" cy="438.5" r="5"/><rect x="680.5" y="436" width="11.0" height="7.600000000000023"/></g></g><g fill="#6a2a2a"><circle cx="685" cy="422.5" r="0.8"/><circle cx="690" cy="421.5" r="0.8"/><circle cx="695" cy="423.5" r="0.8"/><circle cx="698.5" cy="428" r="0.8"/></g>
<rect x="663" y="479.5" width="28.5" height="12.5" rx="6.25" fill="#f0f0fc"/><circle cx="669.5" cy="485.75" r="4.3" fill="#0e0e2a"/><text x="675.3" y="488.9" font-size="7.5" textLength="12.5" lengthAdjust="spacingAndGlyphs" style="fill:#22224a">OFF</text>
<rect x="647" y="518" width="29.5" height="13" rx="6.5" fill="#f0f0fc"/><circle cx="670.3" cy="524.5" r="4.6" fill="#0e0e2a"/><text x="651" y="527.6" font-size="7.5" textLength="11" lengthAdjust="spacingAndGlyphs" style="fill:#22224a">ON</text>
<g fill="none" stroke="#7272ff" stroke-width="1.6"><path d="M611.5,497 L609.2,503.5 A4.6,4.6 0 1 0 617.8,504.2 Z"/><line x1="612.3" y1="517.6" x2="629" y2="496.5"/></g><path d="M608.6,504 H618 A4.7,4.7 0 0 1 608.6,504 Z" fill="#7272ff"/><circle cx="617" cy="497.8" r="1.3" fill="#7272ff"/><circle cx="627.3" cy="514.8" r="3.7" fill="#7272ff"/><rect x="625.4" y="503.5" width="3.8" height="11" rx="1.9" fill="#7272ff"/>
<g filter="url(#gl1)" fill="none" stroke="#d42626" stroke-width="1.7" stroke-linecap="round"><path d="M607.5,550 q-2,3.2 0,6.5 q2,3.3 0,6.5"/><path d="M619,550 q-2,3.2 0,6.5 q2,3.3 0,6.5"/><path d="M630.5,550 q-2,3.2 0,6.5 q2,3.3 0,6.5"/><path d="M605,566 H631 A3.2,3.2 0 0 1 631,572.4 H607.5 A3.1,3.1 0 0 0 607.5,578.6 H633.5"/></g><g fill="#5a0a0a" opacity="0.8"><rect x="606" y="567.5" width="25" height="3.5"/><rect x="608" y="573.8" width="25" height="3.4"/></g>
<g fill="none" stroke="#4cd872" stroke-width="1.45" stroke-linecap="round" filter="url(#gl1)"><g transform="translate(417 554) rotate(-15)"><path d="M9.25,0 C3.0833333333333335,-7.56 -9.25,-7.56 -9.25,0 C-9.25,7.56 3.0833333333333335,7.56 9.25,0 Z"/><path d="M-3.0833333333333335,0 L4.625,0 M1.3214285714285714,0 L-1.85,-2.625 M1.3214285714285714,0 L-1.85,2.625" stroke-width="1.3"/></g><g transform="translate(436 568.5) rotate(120)"><path d="M9.5,0 C3.1666666666666665,-7.56 -9.5,-7.56 -9.5,0 C-9.5,7.56 3.1666666666666665,7.56 9.5,0 Z"/><path d="M-3.1666666666666665,0 L4.75,0 M1.3571428571428572,0 L-1.9,-2.625 M1.3571428571428572,0 L-1.9,2.625" stroke-width="1.3"/></g><g transform="translate(414 576) rotate(225)"><path d="M9.5,0 C3.1666666666666665,-7.92 -9.5,-7.92 -9.5,0 C-9.5,7.92 3.1666666666666665,7.92 9.5,0 Z"/><path d="M-3.1666666666666665,0 L4.75,0 M1.3571428571428572,0 L-1.9,-2.75 M1.3571428571428572,0 L-1.9,2.75" stroke-width="1.3"/></g><path d="M426,549 Q430,551 431.5,555"/></g><g fill="#3ab058"><circle cx="408.4" cy="560.4" r="0.9"/><circle cx="434.8" cy="557.6" r="0.9"/><circle cx="424.4" cy="579.6" r="0.9"/><circle cx="426.8" cy="578.4" r="0.8"/></g>
<circle cx="485.8" cy="595.5" r="20.3" fill="#f2f2fc"/><path d="M480.6,588.5 A2.6,2.6 0 0 1 485.8,588.5 L485.8,593.2 L494.5,595 Q497.8,595.8 497.8,599.5 L497.6,603.5 Q497,609.3 491,609.6 L483.2,609.6 Q480.2,609.6 478.2,606.4 L474.5,600.6 Q473.4,598 475.6,596.8 Q477.8,595.8 480.6,598.8 Z" fill="#050510"/><path d="M477.8,587 A5.4,5.4 0 0 1 488.6,587" fill="none" stroke="#3a3a7a" stroke-width="1.2"/>
<path d="M561.7,580.6 L561.6,580.6 L560.7,580.2 L559.7,579.9 L558.7,579.7 L557.7,579.5 L556.6,579.4 L555.6,579.4 L555.4,579.4 L547.7,577.9 L549.9,580.5 L555.0,586.6 L555.6,587.3 L555.7,587.4 L556.9,586.7 L557.3,586.8 L557.8,586.9 L558.4,587.1 L558.9,587.3 L559.4,587.5 L559.9,587.8 L560.4,588.0 L560.8,588.4 L561.3,588.7 L561.7,589.1 L562.1,589.5 L562.4,590.0 L562.8,590.4 L563.0,590.9 L563.3,591.4 L563.5,591.9 L563.7,592.4 L563.9,593.0 L563.9,593.1 L569.8,588.2 L569.8,588.2 L569.3,587.3 L568.7,586.4 L568.1,585.6 L567.5,584.8 L566.8,584.0 L566.0,583.3 L565.2,582.7 L564.4,582.1 L563.5,581.5 L562.7,581.1 L562.9,580.9 L561.7,580.6ZM548.6,581.0 L547.7,581.5 L546.8,582.1 L546.0,582.7 L545.2,583.3 L544.4,584.0 L543.7,584.8 L543.1,585.6 L542.5,586.4 L541.9,587.3 L541.5,588.1 L541.3,587.9 L541.0,589.1 L541.0,589.2 L540.6,590.1 L540.3,591.1 L540.1,592.1 L539.9,593.1 L539.8,594.2 L539.8,595.2 L539.8,595.4 L538.3,603.1 L540.9,600.9 L547.0,595.8 L547.7,595.2 L547.8,595.1 L547.1,593.9 L547.2,593.5 L547.3,593.0 L547.5,592.4 L547.7,591.9 L547.9,591.4 L548.2,590.9 L548.4,590.4 L548.8,590.0 L549.1,589.5 L549.5,589.1 L549.9,588.7 L550.4,588.4 L550.8,588.0 L551.3,587.8 L551.8,587.5 L552.3,587.3 L552.8,587.1 L553.4,586.9 L553.5,586.9 L548.6,581.0 L548.6,581.0ZM541.4,602.2 L541.9,603.1 L542.5,604.0 L543.1,604.8 L543.7,605.6 L544.4,606.4 L545.2,607.1 L546.0,607.7 L546.8,608.3 L547.7,608.9 L548.5,609.3 L548.3,609.5 L549.5,609.8 L549.6,609.8 L550.5,610.2 L551.5,610.5 L552.5,610.7 L553.5,610.9 L554.6,611.0 L555.6,611.0 L555.8,611.0 L563.5,612.5 L561.3,609.9 L556.2,603.8 L555.6,603.1 L555.5,603.0 L554.3,603.7 L553.9,603.6 L553.4,603.5 L552.8,603.3 L552.3,603.1 L551.8,602.9 L551.3,602.6 L550.8,602.4 L550.4,602.0 L549.9,601.7 L549.5,601.3 L549.1,600.9 L548.8,600.4 L548.4,600.0 L548.2,599.5 L547.9,599.0 L547.7,598.5 L547.5,598.0 L547.3,597.4 L547.3,597.3 L541.4,602.2 L541.4,602.2ZM562.6,609.4 L563.5,608.9 L564.4,608.3 L565.2,607.7 L566.0,607.1 L566.8,606.4 L567.5,605.6 L568.1,604.8 L568.7,604.0 L569.3,603.1 L569.7,602.3 L569.9,602.5 L570.2,601.3 L570.2,601.2 L570.6,600.3 L570.9,599.3 L571.1,598.3 L571.3,597.3 L571.4,596.2 L571.4,595.2 L571.4,595.0 L572.9,587.3 L570.3,589.5 L564.2,594.6 L563.5,595.2 L563.4,595.3 L564.1,596.5 L564.0,596.9 L563.9,597.4 L563.7,598.0 L563.5,598.5 L563.3,599.0 L563.0,599.5 L562.8,600.0 L562.4,600.4 L562.1,600.9 L561.7,601.3 L561.3,601.7 L560.8,602.0 L560.4,602.4 L559.9,602.6 L559.4,602.9 L558.9,603.1 L558.4,603.3 L557.8,603.5 L557.7,603.5 L562.6,609.4 L562.6,609.4Z" fill="#f2f2fc" fill-rule="evenodd"/><text x="551.1" y="600.1" font-size="13" textLength="9" lengthAdjust="spacingAndGlyphs" style="fill:#f2f2fc;stroke:#f2f2fc;stroke-width:0.5">A</text>
<g fill="none" stroke="#d6d6f4" stroke-width="1.7"><rect x="349.45" y="661" width="6.9" height="6.9" rx="2.3"/><rect x="349.45" y="670.3" width="6.9" height="6.9" rx="2.3"/><rect x="359.25" y="661" width="6.9" height="6.9" rx="2.3"/><rect x="359.25" y="670.3" width="6.9" height="6.9" rx="2.3"/></g>
<circle cx="440" cy="669.8" r="11.3" fill="none" stroke="#f2f2fc" stroke-width="2"/><path d="M439.3,662.5 V670.8 H447.3" fill="none" stroke="#f2f2fc" stroke-width="2"/>
<path d="M516.3,661.4 A9.8,9.8 0 1 0 526.7,661.4" fill="none" stroke="#e4eaff" stroke-width="2.4"/><line x1="521.5" y1="657.8" x2="521.5" y2="669" stroke="#e4eaff" stroke-width="2.2"/>
<path d="M592.2,678 L603.5,660.6 L614.7,678 L611.9,679.4 L603.5,668.4 L595,679.4 Z" fill="#f2f2fc"/><path d="M674.1,661.4 L685.3,677.7 L696.5,661.4 L693.7,660 L685.3,670.6 L676.9,660 Z" fill="#f2f2fc"/>
<path d="M416.9,309.7 L416.4,308.8 L415.7,307.8 L415.0,307.0 L414.2,306.3 L413.2,305.6 L412.3,305.1 L411.2,304.8 L410.1,304.6 L409.0,304.5 L407.9,304.6 L406.8,304.8 L405.7,305.1 L404.8,305.6 L403.8,306.3 L403.0,307.0 L402.3,307.8 L401.6,308.8 L401.1,309.7 L400.9,310.3 L400.2,309.9 L399.5,309.5 L398.7,309.2 L397.8,309.1 L397.0,309.0 L396.2,309.1 L395.3,309.2 L394.5,309.5 L393.8,309.9 L393.0,310.3 L392.4,310.9 L391.8,311.5 L391.4,312.2 L391.0,313.0 L390.7,313.8 L390.6,314.7 L390.5,315.5 L390.6,316.3 L390.7,317.2 L391.0,318.0 L391.4,318.8 L391.8,319.5 L392.4,320.1 L393.0,320.7 L393.8,321.1 L394.5,321.5 L395.3,321.8 L396.2,321.9 L397.0,322.0 L397.8,321.9 L398.7,321.8 L399.5,321.5 L399.5,321.5 L409.0,321.5 L418.5,321.5 L419.2,321.5 L419.8,321.3 L420.4,321.1 L421.0,320.8 L421.5,320.5 L422.0,320.0 L422.5,319.5 L422.8,319.0 L423.1,318.4 L423.3,317.8 L423.5,317.2 L423.5,316.5 L423.5,315.8 L423.3,315.2 L423.1,314.6 L422.8,314.0 L422.5,313.5 L422.0,313.0 L421.5,312.5 L421.0,312.2 L420.4,311.9 L419.8,311.7 L419.2,311.5 L418.5,311.5 L417.8,311.5 L417.4,311.6 L417.2,310.8 L416.9,309.7ZM398.2,319.8 L397.6,320.0 L397.0,320.0 L396.4,320.0 L395.8,319.8 L395.3,319.7 L394.8,319.4 L394.3,319.1 L393.8,318.7 L393.4,318.2 L393.1,317.7 L392.8,317.2 L392.7,316.7 L392.5,316.1 L392.5,315.5 L392.5,314.9 L392.7,314.3 L392.8,313.8 L393.1,313.3 L393.4,312.8 L393.8,312.3 L394.3,311.9 L394.8,311.6 L395.3,311.3 L395.8,311.2 L396.4,311.0 L397.0,311.0 L397.6,311.0 L398.2,311.2 L398.7,311.3 L399.2,311.6 L399.8,312.0 L400.1,312.1 L400.3,312.2 L400.6,312.3 L400.8,312.3 L401.1,312.3 L401.3,312.3 L401.6,312.2 L401.8,312.1 L402.1,312.0 L402.3,311.8 L402.5,311.7 L402.6,311.4 L402.7,311.2 L402.8,311.0 L403.0,310.5 L403.4,309.8 L403.8,309.0 L404.4,308.4 L405.0,307.8 L405.8,307.4 L406.5,307.0 L407.3,306.7 L408.2,306.6 L409.0,306.5 L409.8,306.6 L410.7,306.7 L411.5,307.0 L412.2,307.4 L413.0,307.8 L413.6,308.4 L414.2,309.0 L414.6,309.8 L415.0,310.5 L415.3,311.3 L415.4,312.0 L415.5,312.3 L415.6,312.5 L415.7,312.7 L415.9,313.0 L416.1,313.1 L416.3,313.3 L416.5,313.4 L416.7,313.5 L417.0,313.6 L417.2,313.6 L417.5,313.6 L417.8,313.6 L418.1,313.5 L418.5,313.5 L418.9,313.5 L419.3,313.6 L419.6,313.7 L420.0,313.9 L420.3,314.1 L420.6,314.4 L420.9,314.7 L421.1,315.0 L421.3,315.4 L421.4,315.7 L421.5,316.1 L421.5,316.5 L421.5,316.9 L421.4,317.3 L421.3,317.6 L421.1,318.0 L420.9,318.3 L420.6,318.6 L420.3,318.9 L420.0,319.1 L419.6,319.3 L419.3,319.4 L418.9,319.5 L418.4,319.5 L399.5,319.5 L399.3,319.5 L399.0,319.6 L398.8,319.6 L398.8,319.6 L398.2,319.8Z" fill="#ececff" fill-rule="evenodd"/><path d="M406,318 A3.3,3.3 0 1 1 412.5,318.5 L411,322" fill="none" stroke="#ececff" stroke-width="1.6"/><g fill="#ececff"><circle cx="399.5" cy="327" r="1.2"/><circle cx="403.5" cy="325" r="1"/><rect x="405.2" y="323.5" width="2" height="5" rx="1"/><rect x="411" y="323.5" width="2" height="5" rx="1"/></g>
<g filter="url(#gl2)"><circle cx="379.6" cy="349.5" r="6.8" fill="#ff2a1a"/><g stroke="#c02020" stroke-width="1.2"><line x1="371.8" y1="345.0" x2="369.2" y2="343.5"/><line x1="379.6" y1="340.5" x2="379.6" y2="337.5"/><line x1="387.4" y1="345.0" x2="390.0" y2="343.5"/><line x1="388.6" y1="349.5" x2="391.6" y2="349.5"/><line x1="370.6" y1="349.5" x2="367.6" y2="349.5"/></g><rect x="366" y="351" width="27" height="1.6" fill="#d82020"/><rect x="369" y="357" width="19" height="1.6" fill="#c81c1c"/></g>
<path d="M375.1,380.9 L374.7,379.8 L374.2,378.8 L373.5,377.8 L372.7,376.9 L371.8,376.1 L370.9,375.4 L369.8,374.9 L368.7,374.5 L367.5,374.3 L366.3,374.2 L365.1,374.3 L363.9,374.5 L362.8,374.9 L361.8,375.4 L360.8,376.1 L359.9,376.9 L359.1,377.8 L358.4,378.8 L357.9,379.8 L357.5,380.9 L357.3,382.1 L357.2,383.0 L355.0,383.0 L354.7,382.8 L354.1,382.4 L353.5,382.1 L352.9,381.9 L352.2,381.7 L351.5,381.7 L350.8,381.7 L350.1,381.9 L349.5,382.1 L348.9,382.4 L348.3,382.8 L347.8,383.3 L347.3,383.8 L346.9,384.4 L346.6,385.0 L346.4,385.6 L346.2,386.3 L346.2,387.0 L346.2,387.7 L346.4,388.4 L346.6,389.0 L346.9,389.6 L347.3,390.2 L347.8,390.7 L348.3,391.2 L348.9,391.6 L349.5,391.9 L350.1,392.1 L350.8,392.3 L351.5,392.3 L365.0,392.3 L365.1,392.3 L366.3,392.4 L367.5,392.3 L368.7,392.1 L369.8,391.7 L370.9,391.2 L371.8,390.5 L372.7,389.7 L373.5,388.8 L374.2,387.9 L374.7,386.8 L375.1,385.7 L375.3,384.5 L375.4,383.3 L375.3,382.1 L375.1,380.9ZM365.2,389.8 L365.0,389.8 L351.6,389.8 L351.1,389.8 L350.8,389.7 L350.4,389.6 L350.1,389.4 L349.8,389.2 L349.5,389.0 L349.3,388.7 L349.1,388.4 L348.9,388.1 L348.8,387.7 L348.7,387.4 L348.7,387.0 L348.7,386.6 L348.8,386.3 L348.9,385.9 L349.1,385.6 L349.3,385.3 L349.5,385.0 L349.8,384.8 L350.1,384.6 L350.4,384.4 L350.8,384.3 L351.1,384.2 L351.5,384.2 L351.9,384.2 L352.2,384.3 L352.6,384.4 L352.9,384.6 L353.2,384.8 L353.3,384.9 L353.5,385.1 L353.8,385.2 L354.1,385.3 L354.4,385.4 L354.7,385.5 L355.0,385.5 L357.2,385.5 L357.6,385.5 L357.9,385.4 L358.2,385.3 L358.5,385.1 L358.8,384.9 L359.0,384.7 L359.3,384.4 L359.4,384.1 L359.6,383.8 L359.7,383.5 L359.7,383.2 L359.8,382.4 L359.9,381.6 L360.2,380.8 L360.6,380.0 L361.1,379.3 L361.6,378.6 L362.3,378.1 L363.0,377.6 L363.8,377.2 L364.6,376.9 L365.4,376.8 L366.3,376.7 L367.2,376.8 L368.0,376.9 L368.8,377.2 L369.6,377.6 L370.3,378.1 L371.0,378.6 L371.5,379.3 L372.0,380.0 L372.4,380.8 L372.7,381.6 L372.8,382.4 L372.9,383.3 L372.8,384.2 L372.7,385.0 L372.4,385.8 L372.0,386.6 L371.5,387.3 L371.0,388.0 L370.3,388.5 L369.6,389.0 L368.8,389.4 L368.0,389.7 L367.2,389.8 L366.3,389.9 L365.4,389.8 L365.2,389.8Z" fill="#f2f2fc" fill-rule="evenodd"/><g fill="#f2f2fc"><rect x="351.5" y="395.2" width="3" height="4.6" rx="1.5"/><rect x="357.5" y="395.2" width="3" height="4.6" rx="1.5"/><rect x="363.5" y="395.2" width="3" height="4.6" rx="1.5"/><rect x="369.5" y="395.2" width="3" height="4.6" rx="1.5"/></g>
<text x="389" y="402" font-size="18.5" textLength="44" lengthAdjust="spacingAndGlyphs" style="fill:#68ea8c;stroke:#3cc864;stroke-width:0.35">ROOM</text>
<path d="M361.7,418.4 L361.1,417.3 L360.5,416.3 L359.6,415.4 L358.7,414.5 L357.7,413.9 L356.6,413.3 L355.4,412.9 L354.2,412.7 L353.0,412.6 L351.8,412.7 L350.6,412.9 L349.4,413.3 L348.3,413.9 L347.3,414.5 L346.4,415.4 L345.5,416.3 L344.9,417.3 L344.3,418.4 L343.9,419.6 L343.7,420.8 L343.7,421.0 L343.5,421.0 L342.8,421.0 L342.1,421.2 L341.4,421.4 L340.8,421.7 L340.2,422.1 L339.6,422.6 L339.1,423.2 L338.7,423.8 L338.4,424.4 L338.2,425.1 L338.0,425.8 L338.0,426.5 L338.0,427.2 L338.2,427.9 L338.4,428.6 L338.7,429.2 L339.1,429.8 L339.6,430.4 L340.2,430.9 L340.8,431.3 L341.4,431.6 L342.1,431.8 L342.8,432.0 L343.5,432.0 L343.5,432.2 L361.5,432.2 L361.8,432.3 L362.5,432.3 L363.2,432.3 L363.9,432.1 L364.5,431.9 L365.1,431.6 L365.7,431.2 L366.2,430.7 L366.7,430.2 L367.1,429.6 L367.4,429.0 L367.6,428.4 L367.8,427.7 L367.8,427.0 L367.8,426.3 L367.6,425.6 L367.4,425.0 L367.1,424.4 L366.7,423.8 L366.2,423.3 L365.7,422.8 L365.1,422.4 L364.5,422.1 L363.9,421.9 L363.2,421.7 L362.5,421.7 L362.4,421.7 L362.3,420.8 L362.1,419.6 L361.7,418.4ZM344.2,429.8 L343.9,429.7 L343.7,429.7 L343.1,429.7 L342.7,429.6 L342.3,429.5 L341.9,429.3 L341.6,429.0 L341.2,428.8 L341.0,428.4 L340.7,428.1 L340.5,427.7 L340.4,427.3 L340.3,426.9 L340.3,426.5 L340.3,426.1 L340.4,425.7 L340.5,425.3 L340.7,424.9 L341.0,424.6 L341.2,424.2 L341.6,424.0 L341.9,423.7 L342.3,423.5 L342.7,423.4 L343.1,423.3 L343.5,423.3 L343.5,423.3 L343.8,423.3 L344.1,423.3 L344.4,423.2 L344.7,423.1 L344.9,422.9 L345.2,422.7 L345.4,422.5 L345.6,422.3 L345.7,422.0 L345.8,421.8 L345.9,421.5 L346.0,421.2 L346.0,421.1 L346.1,420.2 L346.4,419.3 L346.9,418.5 L347.4,417.7 L348.0,417.0 L348.7,416.4 L349.5,415.9 L350.3,415.4 L351.2,415.1 L352.1,415.0 L353.0,414.9 L353.9,415.0 L354.8,415.1 L355.7,415.4 L356.5,415.9 L357.3,416.4 L358.0,417.0 L358.6,417.7 L359.1,418.5 L359.6,419.3 L359.9,420.2 L360.0,421.1 L360.1,421.9 L360.1,422.2 L360.2,422.4 L360.3,422.7 L360.5,423.0 L360.7,423.2 L360.9,423.4 L361.1,423.6 L361.4,423.8 L361.6,423.9 L361.9,424.0 L362.2,424.0 L362.5,424.0 L362.9,424.0 L363.3,424.1 L363.6,424.2 L364.0,424.4 L364.3,424.6 L364.6,424.9 L364.9,425.2 L365.1,425.5 L365.3,425.9 L365.4,426.2 L365.5,426.6 L365.5,427.0 L365.5,427.4 L365.4,427.8 L365.3,428.1 L365.1,428.5 L364.9,428.8 L364.6,429.1 L364.3,429.4 L364.0,429.6 L363.6,429.8 L363.3,429.9 L362.9,430.0 L362.5,430.0 L362.1,430.0 L362.0,429.9 L361.5,429.9 L344.4,429.9 L344.2,429.8Z" fill="#f2f2fc" fill-rule="evenodd"/><g fill="#f2f2fc"><circle cx="344" cy="435.4" r="1.4"/><circle cx="344" cy="439.6" r="1.4"/><circle cx="349.5" cy="435.4" r="1.4"/><circle cx="349.5" cy="439.6" r="1.4"/><circle cx="355" cy="435.4" r="1.4"/><circle cx="355" cy="439.6" r="1.4"/><circle cx="360.6" cy="435.4" r="1.4"/><circle cx="360.6" cy="439.6" r="1.4"/></g>
<text x="390" y="467" font-size="18" textLength="27" lengthAdjust="spacingAndGlyphs" style="fill:#68ea8c;stroke:#3cc864;stroke-width:0.35">SET</text>
<path d="M363.4,462.1 L362.7,461.1 L361.9,460.1 L360.9,459.3 L359.9,458.6 L358.7,458.0 L357.5,457.6 L356.3,457.4 L355.0,457.3 L353.7,457.4 L352.5,457.6 L351.3,458.0 L350.1,458.6 L349.1,459.3 L348.1,460.1 L347.3,461.1 L346.6,462.1 L346.0,463.3 L345.6,464.5 L345.5,465.1 L345.2,465.0 L344.5,465.0 L343.8,465.0 L343.1,465.2 L342.5,465.4 L341.9,465.7 L341.3,466.1 L340.8,466.6 L340.3,467.1 L339.9,467.7 L339.6,468.3 L339.4,468.9 L339.2,469.6 L339.2,470.3 L339.2,471.0 L339.4,471.7 L339.6,472.3 L339.9,472.9 L340.3,473.5 L340.8,474.0 L341.3,474.5 L341.9,474.9 L342.5,475.2 L343.1,475.4 L343.8,475.6 L344.5,475.6 L350.6,475.6 L351.0,475.8 L351.0,473.3 L350.8,473.3 L350.6,473.3 L344.6,473.3 L344.1,473.3 L343.7,473.2 L343.4,473.1 L343.0,472.9 L342.7,472.7 L342.4,472.4 L342.1,472.1 L341.9,471.8 L341.7,471.4 L341.6,471.1 L341.5,470.7 L341.5,470.3 L341.5,469.9 L341.6,469.5 L341.7,469.2 L341.9,468.8 L342.1,468.5 L342.4,468.2 L342.7,467.9 L343.0,467.7 L343.4,467.5 L343.7,467.4 L344.1,467.3 L344.5,467.3 L344.9,467.3 L345.1,467.4 L345.4,467.4 L345.7,467.4 L346.0,467.4 L346.2,467.3 L346.5,467.2 L346.8,467.0 L347.0,466.8 L347.2,466.6 L347.4,466.4 L347.6,466.1 L347.7,465.8 L347.8,465.6 L347.9,465.1 L348.2,464.2 L348.6,463.3 L349.1,462.5 L349.8,461.8 L350.5,461.1 L351.3,460.6 L352.2,460.2 L353.1,459.9 L354.0,459.7 L355.0,459.6 L356.0,459.7 L356.9,459.9 L357.8,460.2 L358.7,460.6 L359.5,461.1 L360.2,461.8 L360.9,462.5 L361.4,463.3 L361.8,464.2 L362.1,465.1 L362.2,465.5 L362.3,465.8 L362.4,466.1 L362.6,466.3 L362.7,466.6 L363.0,466.8 L363.2,467.0 L363.5,467.1 L363.7,467.2 L364.0,467.3 L364.3,467.3 L364.6,467.3 L365.1,467.3 L365.5,467.3 L365.9,467.4 L366.2,467.5 L366.6,467.7 L366.9,467.9 L367.2,468.2 L367.5,468.5 L367.7,468.8 L367.9,469.2 L368.0,469.5 L368.1,469.9 L368.1,470.3 L368.1,470.7 L368.0,471.1 L367.9,471.4 L367.7,471.8 L367.5,472.1 L367.2,472.4 L366.9,472.7 L366.6,472.9 L366.2,473.1 L365.9,473.2 L365.5,473.3 L365.0,473.3 L359.4,473.3 L359.1,473.3 L358.8,473.4 L358.5,473.5 L358.5,476.0 L358.7,476.0 L359.4,475.6 L365.1,475.6 L365.8,475.6 L366.5,475.4 L367.1,475.2 L367.8,474.9 L368.3,474.5 L368.8,474.0 L369.3,473.5 L369.7,472.9 L370.0,472.3 L370.2,471.7 L370.4,471.0 L370.4,470.3 L370.4,469.6 L370.2,468.9 L370.0,468.3 L369.7,467.7 L369.3,467.1 L368.8,466.6 L368.3,466.1 L367.8,465.7 L367.1,465.4 L366.5,465.2 L365.8,465.0 L365.1,465.0 L364.5,465.0 L364.4,464.5 L364.0,463.3 L363.4,462.1Z" fill="#f2f2fc" fill-rule="evenodd"/><g fill="#f2f2fc"><circle cx="354.65" cy="472.2" r="2"/><circle cx="347.9" cy="479.4" r="1.9"/><circle cx="354.65" cy="479.6" r="2.3"/><circle cx="361.9" cy="479.4" r="1.9"/></g>
<g stroke="#6a7aae" stroke-width="1.9" fill="none"><line x1="460.4" y1="114.5" x2="463.8" y2="331"/>
<line x1="567" y1="113" x2="566.5" y2="266.5"/>
<line x1="96" y1="370" x2="403" y2="370.5"/>
<line x1="101" y1="451" x2="388" y2="453.6"/>
<line x1="101" y1="517" x2="466" y2="518.5"/>
<line x1="109" y1="575" x2="406" y2="570.8"/>
<line x1="699" y1="433.6" x2="939.5" y2="437"/>
<line x1="634" y1="509.8" x2="946" y2="512"/>
<line x1="634.4" y1="574" x2="939.5" y2="575"/>
<line x1="687" y1="672.3" x2="940.6" y2="675"/>
<line x1="357.4" y1="683.6" x2="352.5" y2="819"/>
<line x1="442.6" y1="683" x2="440.4" y2="834"/>
<line x1="486" y1="622" x2="485" y2="787"/>
<line x1="521" y1="672" x2="520" y2="868"/>
<line x1="556.5" y1="612" x2="555.6" y2="816"/>
<line x1="602" y1="673" x2="603" y2="835"/></g>
<text x="346.3" y="121.5" font-size="24" textLength="112.7" lengthAdjust="spacing">Child lock</text>
<text x="570.5" y="114" font-size="24" textLength="98" lengthAdjust="spacing">Weather</text>
<text x="20.3" y="355.6" font-size="24" textLength="222" lengthAdjust="spacing">Room temperature</text>
<text x="39.5" y="441" font-size="24" textLength="190.5" lengthAdjust="spacing">Set temperature</text>
<text x="87" y="505" font-size="24" textLength="146" lengthAdjust="spacing">Time display</text>
<text x="4.7" y="567" font-size="24" textLength="240" lengthAdjust="spacing">Energy-saving mode</text>
<text x="818.5" y="426" font-size="24" textLength="99" lengthAdjust="spacing">Weather</text>
<text x="810.8" y="500" font-size="24" textLength="145" lengthAdjust="spacing">temperature</text>
<text x="806.8" y="561.6" font-size="24" textLength="165.7" lengthAdjust="spacing">Heating mode</text>
<text x="811.9" y="662.9" font-size="24" textLength="154" lengthAdjust="spacing">down-button</text>
<text x="165.6" y="818.4" font-size="24" textLength="187" lengthAdjust="spacing">Mode switching</text>
<text x="302.4" y="849" font-size="24" textLength="143" lengthAdjust="spacing">Time setting</text>
<text x="445.6" y="800" font-size="20" textLength="70.4" lengthAdjust="spacing">Manual</text>
<text x="451" y="825.6" font-size="20" textLength="54" lengthAdjust="spacing">mode</text>
<text x="526" y="827" font-size="22" textLength="75" lengthAdjust="spacing">up-key</text>
<text x="485" y="885" font-size="24" textLength="82" lengthAdjust="spacing">On/Off</text>
<text x="604.9" y="848.6" font-size="24" textLength="239" lengthAdjust="spacing">Energy-saving mode</text>
</svg>
</body></html>
